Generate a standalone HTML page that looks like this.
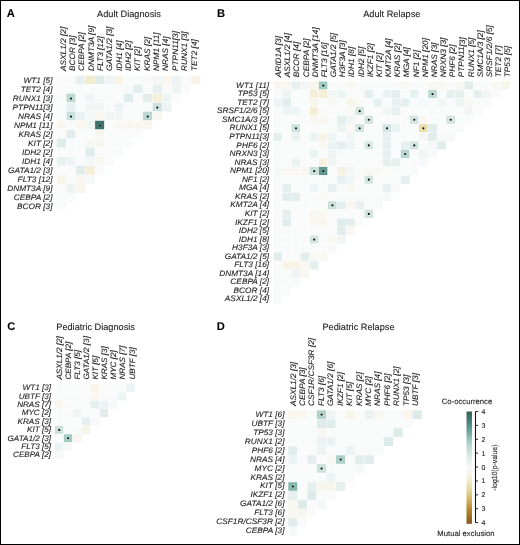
<!DOCTYPE html>
<html><head><meta charset="utf-8"><title>Figure</title><style>
html,body{margin:0;padding:0;background:#fff;}
#wrap{position:relative;width:520px;height:545px;overflow:hidden;background:#fff;}
#frame{position:absolute;left:0;top:0;width:520px;height:545px;box-sizing:border-box;border:1px solid #000;z-index:5;pointer-events:none}
text{text-rendering:geometricPrecision;font-family:"Liberation Sans", sans-serif;font-style:italic;fill:#1c1c1c;stroke:#1c1c1c;stroke-width:0.1px;}
text.t{font-style:normal;font-size:9.2px;fill:#1a1a1a}
text.l{font-style:normal;font-weight:bold;font-size:11.2px;fill:#000}
text.cb{font-style:normal;font-size:7.0px;fill:#1a1a1a}
text.lg{font-style:normal;font-size:7.7px;fill:#1a1a1a}
</style></head>
<body><div id="wrap">
<svg width="520" height="545" viewBox="0 0 520 545" style="position:absolute;left:0;top:0;filter:blur(0.3px)">
<rect x="0" y="0" width="520" height="545" fill="#fff"/>
<rect x="56.60" y="75.40" width="9.59" height="9.05" fill="#f9fafa" stroke="#fff" stroke-width="0.3"/>
<rect x="66.19" y="75.40" width="9.59" height="9.05" fill="#f9fafa" stroke="#fff" stroke-width="0.3"/>
<rect x="75.78" y="75.40" width="9.59" height="9.05" fill="#e8f1f0" stroke="#fff" stroke-width="0.3"/>
<rect x="85.37" y="75.40" width="9.59" height="9.05" fill="#f2ecce" stroke="#fff" stroke-width="0.3"/>
<rect x="94.96" y="75.40" width="9.59" height="9.05" fill="#deecea" stroke="#fff" stroke-width="0.3"/>
<rect x="104.55" y="75.40" width="9.59" height="9.05" fill="#eef4f4" stroke="#fff" stroke-width="0.3"/>
<rect x="114.14" y="75.40" width="9.59" height="9.05" fill="#f7f4ea" stroke="#fff" stroke-width="0.3"/>
<rect x="123.73" y="75.40" width="9.59" height="9.05" fill="#f9fafa" stroke="#fff" stroke-width="0.3"/>
<rect x="133.32" y="75.40" width="9.59" height="9.05" fill="#f9fafa" stroke="#fff" stroke-width="0.3"/>
<rect x="142.91" y="75.40" width="9.59" height="9.05" fill="#f7f9f9" stroke="#fff" stroke-width="0.3"/>
<rect x="152.50" y="75.40" width="9.59" height="9.05" fill="#f1f6f5" stroke="#fff" stroke-width="0.3"/>
<rect x="162.09" y="75.40" width="9.59" height="9.05" fill="#f8f6ee" stroke="#fff" stroke-width="0.3"/>
<rect x="171.68" y="75.40" width="9.59" height="9.05" fill="#eef4f4" stroke="#fff" stroke-width="0.3"/>
<rect x="181.27" y="75.40" width="9.59" height="9.05" fill="#f9fafa" stroke="#fff" stroke-width="0.3"/>
<rect x="190.86" y="75.40" width="9.59" height="9.05" fill="#f7f4ea" stroke="#fff" stroke-width="0.3"/>
<rect x="56.60" y="84.45" width="9.59" height="9.05" fill="#f9fafa" stroke="#fff" stroke-width="0.3"/>
<rect x="66.19" y="84.45" width="9.59" height="9.05" fill="#f9fafa" stroke="#fff" stroke-width="0.3"/>
<rect x="75.78" y="84.45" width="9.59" height="9.05" fill="#f9fafa" stroke="#fff" stroke-width="0.3"/>
<rect x="85.37" y="84.45" width="9.59" height="9.05" fill="#f9fafa" stroke="#fff" stroke-width="0.3"/>
<rect x="94.96" y="84.45" width="9.59" height="9.05" fill="#f9fafa" stroke="#fff" stroke-width="0.3"/>
<rect x="104.55" y="84.45" width="9.59" height="9.05" fill="#f9fafa" stroke="#fff" stroke-width="0.3"/>
<rect x="114.14" y="84.45" width="9.59" height="9.05" fill="#f9fafa" stroke="#fff" stroke-width="0.3"/>
<rect x="123.73" y="84.45" width="9.59" height="9.05" fill="#f7f9f9" stroke="#fff" stroke-width="0.3"/>
<rect x="133.32" y="84.45" width="9.59" height="9.05" fill="#e3eeed" stroke="#fff" stroke-width="0.3"/>
<rect x="142.91" y="84.45" width="9.59" height="9.05" fill="#f9fafa" stroke="#fff" stroke-width="0.3"/>
<rect x="152.50" y="84.45" width="9.59" height="9.05" fill="#e4efee" stroke="#fff" stroke-width="0.3"/>
<rect x="162.09" y="84.45" width="9.59" height="9.05" fill="#f9fafa" stroke="#fff" stroke-width="0.3"/>
<rect x="171.68" y="84.45" width="9.59" height="9.05" fill="#eef4f4" stroke="#fff" stroke-width="0.3"/>
<rect x="181.27" y="84.45" width="9.59" height="9.05" fill="#f9fafa" stroke="#fff" stroke-width="0.3"/>
<rect x="56.60" y="93.50" width="9.59" height="9.05" fill="#f9fafa" stroke="#fff" stroke-width="0.3"/>
<rect x="66.19" y="93.50" width="9.59" height="9.05" fill="#bcd8d2" stroke="#fff" stroke-width="0.3"/>
<rect x="75.78" y="93.50" width="9.59" height="9.05" fill="#f9fafa" stroke="#fff" stroke-width="0.3"/>
<rect x="85.37" y="93.50" width="9.59" height="9.05" fill="#eef4f4" stroke="#fff" stroke-width="0.3"/>
<rect x="94.96" y="93.50" width="9.59" height="9.05" fill="#f9fafa" stroke="#fff" stroke-width="0.3"/>
<rect x="104.55" y="93.50" width="9.59" height="9.05" fill="#f9fafa" stroke="#fff" stroke-width="0.3"/>
<rect x="114.14" y="93.50" width="9.59" height="9.05" fill="#f9fafa" stroke="#fff" stroke-width="0.3"/>
<rect x="123.73" y="93.50" width="9.59" height="9.05" fill="#e1edec" stroke="#fff" stroke-width="0.3"/>
<rect x="133.32" y="93.50" width="9.59" height="9.05" fill="#f9fafa" stroke="#fff" stroke-width="0.3"/>
<rect x="142.91" y="93.50" width="9.59" height="9.05" fill="#e0edeb" stroke="#fff" stroke-width="0.3"/>
<rect x="152.50" y="93.50" width="9.59" height="9.05" fill="#f5efda" stroke="#fff" stroke-width="0.3"/>
<rect x="162.09" y="93.50" width="9.59" height="9.05" fill="#eef4f4" stroke="#fff" stroke-width="0.3"/>
<rect x="171.68" y="93.50" width="9.59" height="9.05" fill="#f9fafa" stroke="#fff" stroke-width="0.3"/>
<rect x="56.60" y="102.55" width="9.59" height="9.05" fill="#f9fafa" stroke="#fff" stroke-width="0.3"/>
<rect x="66.19" y="102.55" width="9.59" height="9.05" fill="#e6f0ef" stroke="#fff" stroke-width="0.3"/>
<rect x="75.78" y="102.55" width="9.59" height="9.05" fill="#f9fafa" stroke="#fff" stroke-width="0.3"/>
<rect x="85.37" y="102.55" width="9.59" height="9.05" fill="#f1f6f5" stroke="#fff" stroke-width="0.3"/>
<rect x="94.96" y="102.55" width="9.59" height="9.05" fill="#f1f6f5" stroke="#fff" stroke-width="0.3"/>
<rect x="104.55" y="102.55" width="9.59" height="9.05" fill="#f9fafa" stroke="#fff" stroke-width="0.3"/>
<rect x="114.14" y="102.55" width="9.59" height="9.05" fill="#eef4f4" stroke="#fff" stroke-width="0.3"/>
<rect x="123.73" y="102.55" width="9.59" height="9.05" fill="#f9fafa" stroke="#fff" stroke-width="0.3"/>
<rect x="133.32" y="102.55" width="9.59" height="9.05" fill="#f9fafa" stroke="#fff" stroke-width="0.3"/>
<rect x="142.91" y="102.55" width="9.59" height="9.05" fill="#f9fafa" stroke="#fff" stroke-width="0.3"/>
<rect x="152.50" y="102.55" width="9.59" height="9.05" fill="#cce1dd" stroke="#fff" stroke-width="0.3"/>
<rect x="162.09" y="102.55" width="9.59" height="9.05" fill="#ecf3f3" stroke="#fff" stroke-width="0.3"/>
<rect x="56.60" y="111.60" width="9.59" height="9.05" fill="#f9fafa" stroke="#fff" stroke-width="0.3"/>
<rect x="66.19" y="111.60" width="9.59" height="9.05" fill="#c9e0db" stroke="#fff" stroke-width="0.3"/>
<rect x="75.78" y="111.60" width="9.59" height="9.05" fill="#eaf2f2" stroke="#fff" stroke-width="0.3"/>
<rect x="85.37" y="111.60" width="9.59" height="9.05" fill="#f5f8f8" stroke="#fff" stroke-width="0.3"/>
<rect x="94.96" y="111.60" width="9.59" height="9.05" fill="#f8f6ee" stroke="#fff" stroke-width="0.3"/>
<rect x="104.55" y="111.60" width="9.59" height="9.05" fill="#f1f6f5" stroke="#fff" stroke-width="0.3"/>
<rect x="114.14" y="111.60" width="9.59" height="9.05" fill="#f1f6f5" stroke="#fff" stroke-width="0.3"/>
<rect x="123.73" y="111.60" width="9.59" height="9.05" fill="#f9fafa" stroke="#fff" stroke-width="0.3"/>
<rect x="133.32" y="111.60" width="9.59" height="9.05" fill="#f9fafa" stroke="#fff" stroke-width="0.3"/>
<rect x="142.91" y="111.60" width="9.59" height="9.05" fill="#b9d6d0" stroke="#fff" stroke-width="0.3"/>
<rect x="152.50" y="111.60" width="9.59" height="9.05" fill="#f8f7f2" stroke="#fff" stroke-width="0.3"/>
<rect x="56.60" y="120.65" width="9.59" height="9.05" fill="#f8f6ee" stroke="#fff" stroke-width="0.3"/>
<rect x="66.19" y="120.65" width="9.59" height="9.05" fill="#f9fafa" stroke="#fff" stroke-width="0.3"/>
<rect x="75.78" y="120.65" width="9.59" height="9.05" fill="#f8f6ee" stroke="#fff" stroke-width="0.3"/>
<rect x="85.37" y="120.65" width="9.59" height="9.05" fill="#f1f6f5" stroke="#fff" stroke-width="0.3"/>
<rect x="94.96" y="120.65" width="9.59" height="9.05" fill="#3d7268" stroke="#fff" stroke-width="0.3"/>
<rect x="104.55" y="120.65" width="9.59" height="9.05" fill="#f9fafa" stroke="#fff" stroke-width="0.3"/>
<rect x="114.14" y="120.65" width="9.59" height="9.05" fill="#f8f7f2" stroke="#fff" stroke-width="0.3"/>
<rect x="123.73" y="120.65" width="9.59" height="9.05" fill="#f8f6ee" stroke="#fff" stroke-width="0.3"/>
<rect x="133.32" y="120.65" width="9.59" height="9.05" fill="#f8f6ee" stroke="#fff" stroke-width="0.3"/>
<rect x="142.91" y="120.65" width="9.59" height="9.05" fill="#f8f6ee" stroke="#fff" stroke-width="0.3"/>
<rect x="56.60" y="129.70" width="9.59" height="9.05" fill="#f9fafa" stroke="#fff" stroke-width="0.3"/>
<rect x="66.19" y="129.70" width="9.59" height="9.05" fill="#e1edec" stroke="#fff" stroke-width="0.3"/>
<rect x="75.78" y="129.70" width="9.59" height="9.05" fill="#f9fafa" stroke="#fff" stroke-width="0.3"/>
<rect x="85.37" y="129.70" width="9.59" height="9.05" fill="#f9fafa" stroke="#fff" stroke-width="0.3"/>
<rect x="94.96" y="129.70" width="9.59" height="9.05" fill="#f8f6f0" stroke="#fff" stroke-width="0.3"/>
<rect x="104.55" y="129.70" width="9.59" height="9.05" fill="#f9fafa" stroke="#fff" stroke-width="0.3"/>
<rect x="114.14" y="129.70" width="9.59" height="9.05" fill="#f9fafa" stroke="#fff" stroke-width="0.3"/>
<rect x="123.73" y="129.70" width="9.59" height="9.05" fill="#f9fafa" stroke="#fff" stroke-width="0.3"/>
<rect x="133.32" y="129.70" width="9.59" height="9.05" fill="#f9fafa" stroke="#fff" stroke-width="0.3"/>
<rect x="56.60" y="138.75" width="9.59" height="9.05" fill="#deecea" stroke="#fff" stroke-width="0.3"/>
<rect x="66.19" y="138.75" width="9.59" height="9.05" fill="#f9fafa" stroke="#fff" stroke-width="0.3"/>
<rect x="75.78" y="138.75" width="9.59" height="9.05" fill="#f9fafa" stroke="#fff" stroke-width="0.3"/>
<rect x="85.37" y="138.75" width="9.59" height="9.05" fill="#f8f6f0" stroke="#fff" stroke-width="0.3"/>
<rect x="94.96" y="138.75" width="9.59" height="9.05" fill="#f8f6f0" stroke="#fff" stroke-width="0.3"/>
<rect x="104.55" y="138.75" width="9.59" height="9.05" fill="#f9fafa" stroke="#fff" stroke-width="0.3"/>
<rect x="114.14" y="138.75" width="9.59" height="9.05" fill="#f9fafa" stroke="#fff" stroke-width="0.3"/>
<rect x="123.73" y="138.75" width="9.59" height="9.05" fill="#f9fafa" stroke="#fff" stroke-width="0.3"/>
<rect x="56.60" y="147.80" width="9.59" height="9.05" fill="#f9fafa" stroke="#fff" stroke-width="0.3"/>
<rect x="66.19" y="147.80" width="9.59" height="9.05" fill="#f9fafa" stroke="#fff" stroke-width="0.3"/>
<rect x="75.78" y="147.80" width="9.59" height="9.05" fill="#f9fafa" stroke="#fff" stroke-width="0.3"/>
<rect x="85.37" y="147.80" width="9.59" height="9.05" fill="#deecea" stroke="#fff" stroke-width="0.3"/>
<rect x="94.96" y="147.80" width="9.59" height="9.05" fill="#f9fafa" stroke="#fff" stroke-width="0.3"/>
<rect x="104.55" y="147.80" width="9.59" height="9.05" fill="#f9fafa" stroke="#fff" stroke-width="0.3"/>
<rect x="114.14" y="147.80" width="9.59" height="9.05" fill="#f9fafa" stroke="#fff" stroke-width="0.3"/>
<rect x="56.60" y="156.85" width="9.59" height="9.05" fill="#e6f0ef" stroke="#fff" stroke-width="0.3"/>
<rect x="66.19" y="156.85" width="9.59" height="9.05" fill="#eef4f4" stroke="#fff" stroke-width="0.3"/>
<rect x="75.78" y="156.85" width="9.59" height="9.05" fill="#f9fafa" stroke="#fff" stroke-width="0.3"/>
<rect x="85.37" y="156.85" width="9.59" height="9.05" fill="#f3f7f6" stroke="#fff" stroke-width="0.3"/>
<rect x="94.96" y="156.85" width="9.59" height="9.05" fill="#f8f7f2" stroke="#fff" stroke-width="0.3"/>
<rect x="104.55" y="156.85" width="9.59" height="9.05" fill="#f9fafa" stroke="#fff" stroke-width="0.3"/>
<rect x="56.60" y="165.90" width="9.59" height="9.05" fill="#f9fafa" stroke="#fff" stroke-width="0.3"/>
<rect x="66.19" y="165.90" width="9.59" height="9.05" fill="#f9fafa" stroke="#fff" stroke-width="0.3"/>
<rect x="75.78" y="165.90" width="9.59" height="9.05" fill="#e0edeb" stroke="#fff" stroke-width="0.3"/>
<rect x="85.37" y="165.90" width="9.59" height="9.05" fill="#f5efda" stroke="#fff" stroke-width="0.3"/>
<rect x="94.96" y="165.90" width="9.59" height="9.05" fill="#f9fafa" stroke="#fff" stroke-width="0.3"/>
<rect x="56.60" y="174.95" width="9.59" height="9.05" fill="#f7f4e8" stroke="#fff" stroke-width="0.3"/>
<rect x="66.19" y="174.95" width="9.59" height="9.05" fill="#f9fafa" stroke="#fff" stroke-width="0.3"/>
<rect x="75.78" y="174.95" width="9.59" height="9.05" fill="#f8f6ee" stroke="#fff" stroke-width="0.3"/>
<rect x="85.37" y="174.95" width="9.59" height="9.05" fill="#f5f8f8" stroke="#fff" stroke-width="0.3"/>
<rect x="56.60" y="184.00" width="9.59" height="9.05" fill="#f9fafa" stroke="#fff" stroke-width="0.3"/>
<rect x="66.19" y="184.00" width="9.59" height="9.05" fill="#ecf3f3" stroke="#fff" stroke-width="0.3"/>
<rect x="75.78" y="184.00" width="9.59" height="9.05" fill="#f8f5ec" stroke="#fff" stroke-width="0.3"/>
<rect x="56.60" y="193.05" width="9.59" height="9.05" fill="#f9fafa" stroke="#fff" stroke-width="0.3"/>
<rect x="66.19" y="193.05" width="9.59" height="9.05" fill="#f9fafa" stroke="#fff" stroke-width="0.3"/>
<rect x="56.60" y="202.10" width="9.59" height="9.05" fill="#f9fafa" stroke="#fff" stroke-width="0.3"/>
<circle cx="70.98" cy="98.53" r="1.9" fill="#fff" fill-opacity="0.2"/>
<circle cx="70.98" cy="98.53" r="1.1" fill="#111"/>
<circle cx="157.29" cy="107.58" r="1.9" fill="#fff" fill-opacity="0.2"/>
<circle cx="157.29" cy="107.58" r="1.1" fill="#111"/>
<circle cx="70.98" cy="116.62" r="1.9" fill="#fff" fill-opacity="0.2"/>
<circle cx="70.98" cy="116.62" r="1.1" fill="#111"/>
<circle cx="147.71" cy="116.62" r="1.9" fill="#fff" fill-opacity="0.2"/>
<circle cx="147.71" cy="116.62" r="1.1" fill="#111"/>
<circle cx="99.75" cy="125.68" r="1.9" fill="#fff" fill-opacity="0.2"/>
<circle cx="99.75" cy="125.68" r="1.1" fill="#111"/>
<text transform="translate(52.50,83.20) scale(1,0.96)" text-anchor="end" font-size="8.3">WT1 [5]</text>
<text transform="translate(52.50,92.18) scale(1,0.96)" text-anchor="end" font-size="8.3">TET2 [4]</text>
<text transform="translate(52.50,101.16) scale(1,0.96)" text-anchor="end" font-size="8.3">RUNX1 [3]</text>
<text transform="translate(52.50,110.14) scale(1,0.96)" text-anchor="end" font-size="8.3">PTPN11[3]</text>
<text transform="translate(52.50,119.12) scale(1,0.96)" text-anchor="end" font-size="8.3">NRAS [4]</text>
<text transform="translate(52.50,128.10) scale(1,0.96)" text-anchor="end" font-size="8.3">NPM1 [11]</text>
<text transform="translate(52.50,137.08) scale(1,0.96)" text-anchor="end" font-size="8.3">KRAS [2]</text>
<text transform="translate(52.50,146.06) scale(1,0.96)" text-anchor="end" font-size="8.3">KIT [2]</text>
<text transform="translate(52.50,155.04) scale(1,0.96)" text-anchor="end" font-size="8.3">IDH2 [2]</text>
<text transform="translate(52.50,164.02) scale(1,0.96)" text-anchor="end" font-size="8.3">IDH1 [4]</text>
<text transform="translate(52.50,173.00) scale(1,0.96)" text-anchor="end" font-size="8.3">GATA1/2 [3]</text>
<text transform="translate(52.50,181.98) scale(1,0.96)" text-anchor="end" font-size="8.3">FLT3 [12]</text>
<text transform="translate(52.50,190.96) scale(1,0.96)" text-anchor="end" font-size="8.3">DNMT3A [9]</text>
<text transform="translate(52.50,199.94) scale(1,0.96)" text-anchor="end" font-size="8.3">CEBPA [2]</text>
<text transform="translate(52.50,208.92) scale(1,0.96)" text-anchor="end" font-size="8.3">BCOR [3]</text>
<text transform="translate(65.65,71.00) rotate(-89.98) scale(1,0.96)" font-size="8.3">ASXL1/2 [2]</text>
<text transform="translate(75.00,71.00) rotate(-89.98) scale(1,0.96)" font-size="8.3">BCOR [3]</text>
<text transform="translate(84.35,71.00) rotate(-89.98) scale(1,0.96)" font-size="8.3">CEBPA [2]</text>
<text transform="translate(93.70,71.00) rotate(-89.98) scale(1,0.96)" font-size="8.3">DNMT3A [9]</text>
<text transform="translate(103.05,71.00) rotate(-89.98) scale(1,0.96)" font-size="8.3">FLT3 [12]</text>
<text transform="translate(112.39,71.00) rotate(-89.98) scale(1,0.96)" font-size="8.3">GATA1/2 [3]</text>
<text transform="translate(121.74,71.00) rotate(-89.98) scale(1,0.96)" font-size="8.3">IDH1 [4]</text>
<text transform="translate(131.09,71.00) rotate(-89.98) scale(1,0.96)" font-size="8.3">IDH2 [2]</text>
<text transform="translate(140.44,71.00) rotate(-89.98) scale(1,0.96)" font-size="8.3">KIT [2]</text>
<text transform="translate(149.79,71.00) rotate(-89.98) scale(1,0.96)" font-size="8.3">KRAS [2]</text>
<text transform="translate(159.14,71.00) rotate(-89.98) scale(1,0.96)" font-size="8.3">NPM1 [11]</text>
<text transform="translate(168.49,71.00) rotate(-89.98) scale(1,0.96)" font-size="8.3">NRAS [4]</text>
<text transform="translate(177.84,71.00) rotate(-89.98) scale(1,0.96)" font-size="8.3">PTPN11[3]</text>
<text transform="translate(187.19,71.00) rotate(-89.98) scale(1,0.96)" font-size="8.3">RUNX1 [3]</text>
<text transform="translate(196.54,71.00) rotate(-89.98) scale(1,0.96)" font-size="8.3">TET2 [4]</text>
<text x="129.00" y="16.90" text-anchor="middle" class="t">Adult Diagnosis</text>
<text x="6.80" y="16.80" class="l">A</text>
<rect x="273.25" y="81.25" width="9.10" height="8.56" fill="#f8f6ee" stroke="#fff" stroke-width="0.3"/>
<rect x="282.35" y="81.25" width="9.10" height="8.56" fill="#f8f6ee" stroke="#fff" stroke-width="0.3"/>
<rect x="291.45" y="81.25" width="9.10" height="8.56" fill="#e6f0ef" stroke="#fff" stroke-width="0.3"/>
<rect x="300.55" y="81.25" width="9.10" height="8.56" fill="#f1f6f5" stroke="#fff" stroke-width="0.3"/>
<rect x="309.65" y="81.25" width="9.10" height="8.56" fill="#f7f4ea" stroke="#fff" stroke-width="0.3"/>
<rect x="318.75" y="81.25" width="9.10" height="8.56" fill="#9ecac0" stroke="#fff" stroke-width="0.3"/>
<rect x="327.85" y="81.25" width="9.10" height="8.56" fill="#f9fafa" stroke="#fff" stroke-width="0.3"/>
<rect x="336.95" y="81.25" width="9.10" height="8.56" fill="#f9fafa" stroke="#fff" stroke-width="0.3"/>
<rect x="346.05" y="81.25" width="9.10" height="8.56" fill="#f8f7f2" stroke="#fff" stroke-width="0.3"/>
<rect x="355.15" y="81.25" width="9.10" height="8.56" fill="#f9fafa" stroke="#fff" stroke-width="0.3"/>
<rect x="364.25" y="81.25" width="9.10" height="8.56" fill="#f9fafa" stroke="#fff" stroke-width="0.3"/>
<rect x="373.35" y="81.25" width="9.10" height="8.56" fill="#f9fafa" stroke="#fff" stroke-width="0.3"/>
<rect x="382.45" y="81.25" width="9.10" height="8.56" fill="#f9fafa" stroke="#fff" stroke-width="0.3"/>
<rect x="391.55" y="81.25" width="9.10" height="8.56" fill="#f9fafa" stroke="#fff" stroke-width="0.3"/>
<rect x="400.65" y="81.25" width="9.10" height="8.56" fill="#f8f7f2" stroke="#fff" stroke-width="0.3"/>
<rect x="409.75" y="81.25" width="9.10" height="8.56" fill="#f9fafa" stroke="#fff" stroke-width="0.3"/>
<rect x="418.85" y="81.25" width="9.10" height="8.56" fill="#f9fafa" stroke="#fff" stroke-width="0.3"/>
<rect x="427.95" y="81.25" width="9.10" height="8.56" fill="#f8f7f2" stroke="#fff" stroke-width="0.3"/>
<rect x="437.05" y="81.25" width="9.10" height="8.56" fill="#f8f7f2" stroke="#fff" stroke-width="0.3"/>
<rect x="446.15" y="81.25" width="9.10" height="8.56" fill="#f9fafa" stroke="#fff" stroke-width="0.3"/>
<rect x="455.25" y="81.25" width="9.10" height="8.56" fill="#f8f6f0" stroke="#fff" stroke-width="0.3"/>
<rect x="464.35" y="81.25" width="9.10" height="8.56" fill="#e0edeb" stroke="#fff" stroke-width="0.3"/>
<rect x="473.45" y="81.25" width="9.10" height="8.56" fill="#f9fafa" stroke="#fff" stroke-width="0.3"/>
<rect x="482.55" y="81.25" width="9.10" height="8.56" fill="#f9fafa" stroke="#fff" stroke-width="0.3"/>
<rect x="491.65" y="81.25" width="9.10" height="8.56" fill="#f8f7f2" stroke="#fff" stroke-width="0.3"/>
<rect x="500.75" y="81.25" width="9.10" height="8.56" fill="#f7f4e8" stroke="#fff" stroke-width="0.3"/>
<rect x="273.25" y="89.81" width="9.10" height="8.56" fill="#f9fafa" stroke="#fff" stroke-width="0.3"/>
<rect x="282.35" y="89.81" width="9.10" height="8.56" fill="#eef4f4" stroke="#fff" stroke-width="0.3"/>
<rect x="291.45" y="89.81" width="9.10" height="8.56" fill="#f9fafa" stroke="#fff" stroke-width="0.3"/>
<rect x="300.55" y="89.81" width="9.10" height="8.56" fill="#f9fafa" stroke="#fff" stroke-width="0.3"/>
<rect x="309.65" y="89.81" width="9.10" height="8.56" fill="#f5efda" stroke="#fff" stroke-width="0.3"/>
<rect x="318.75" y="89.81" width="9.10" height="8.56" fill="#f5efda" stroke="#fff" stroke-width="0.3"/>
<rect x="327.85" y="89.81" width="9.10" height="8.56" fill="#f3f7f6" stroke="#fff" stroke-width="0.3"/>
<rect x="336.95" y="89.81" width="9.10" height="8.56" fill="#ecf3f3" stroke="#fff" stroke-width="0.3"/>
<rect x="346.05" y="89.81" width="9.10" height="8.56" fill="#f9fafa" stroke="#fff" stroke-width="0.3"/>
<rect x="355.15" y="89.81" width="9.10" height="8.56" fill="#f9fafa" stroke="#fff" stroke-width="0.3"/>
<rect x="364.25" y="89.81" width="9.10" height="8.56" fill="#e4efee" stroke="#fff" stroke-width="0.3"/>
<rect x="373.35" y="89.81" width="9.10" height="8.56" fill="#f9fafa" stroke="#fff" stroke-width="0.3"/>
<rect x="382.45" y="89.81" width="9.10" height="8.56" fill="#eaf2f2" stroke="#fff" stroke-width="0.3"/>
<rect x="391.55" y="89.81" width="9.10" height="8.56" fill="#e4efee" stroke="#fff" stroke-width="0.3"/>
<rect x="400.65" y="89.81" width="9.10" height="8.56" fill="#f9fafa" stroke="#fff" stroke-width="0.3"/>
<rect x="409.75" y="89.81" width="9.10" height="8.56" fill="#e6f0ef" stroke="#fff" stroke-width="0.3"/>
<rect x="418.85" y="89.81" width="9.10" height="8.56" fill="#f9fafa" stroke="#fff" stroke-width="0.3"/>
<rect x="427.95" y="89.81" width="9.10" height="8.56" fill="#bfdad4" stroke="#fff" stroke-width="0.3"/>
<rect x="437.05" y="89.81" width="9.10" height="8.56" fill="#f9fafa" stroke="#fff" stroke-width="0.3"/>
<rect x="446.15" y="89.81" width="9.10" height="8.56" fill="#e6f0ef" stroke="#fff" stroke-width="0.3"/>
<rect x="455.25" y="89.81" width="9.10" height="8.56" fill="#e8f1f0" stroke="#fff" stroke-width="0.3"/>
<rect x="464.35" y="89.81" width="9.10" height="8.56" fill="#f9fafa" stroke="#fff" stroke-width="0.3"/>
<rect x="473.45" y="89.81" width="9.10" height="8.56" fill="#e4efee" stroke="#fff" stroke-width="0.3"/>
<rect x="482.55" y="89.81" width="9.10" height="8.56" fill="#f1f6f5" stroke="#fff" stroke-width="0.3"/>
<rect x="491.65" y="89.81" width="9.10" height="8.56" fill="#f9fafa" stroke="#fff" stroke-width="0.3"/>
<rect x="273.25" y="98.37" width="9.10" height="8.56" fill="#eef4f4" stroke="#fff" stroke-width="0.3"/>
<rect x="282.35" y="98.37" width="9.10" height="8.56" fill="#e0edeb" stroke="#fff" stroke-width="0.3"/>
<rect x="291.45" y="98.37" width="9.10" height="8.56" fill="#f9fafa" stroke="#fff" stroke-width="0.3"/>
<rect x="300.55" y="98.37" width="9.10" height="8.56" fill="#f9fafa" stroke="#fff" stroke-width="0.3"/>
<rect x="309.65" y="98.37" width="9.10" height="8.56" fill="#f8f5ec" stroke="#fff" stroke-width="0.3"/>
<rect x="318.75" y="98.37" width="9.10" height="8.56" fill="#f9fafa" stroke="#fff" stroke-width="0.3"/>
<rect x="327.85" y="98.37" width="9.10" height="8.56" fill="#f8f7f2" stroke="#fff" stroke-width="0.3"/>
<rect x="336.95" y="98.37" width="9.10" height="8.56" fill="#f9fafa" stroke="#fff" stroke-width="0.3"/>
<rect x="346.05" y="98.37" width="9.10" height="8.56" fill="#f7f4ea" stroke="#fff" stroke-width="0.3"/>
<rect x="355.15" y="98.37" width="9.10" height="8.56" fill="#f8f7f2" stroke="#fff" stroke-width="0.3"/>
<rect x="364.25" y="98.37" width="9.10" height="8.56" fill="#f9fafa" stroke="#fff" stroke-width="0.3"/>
<rect x="373.35" y="98.37" width="9.10" height="8.56" fill="#e6f0ef" stroke="#fff" stroke-width="0.3"/>
<rect x="382.45" y="98.37" width="9.10" height="8.56" fill="#f9fafa" stroke="#fff" stroke-width="0.3"/>
<rect x="391.55" y="98.37" width="9.10" height="8.56" fill="#e8f1f0" stroke="#fff" stroke-width="0.3"/>
<rect x="400.65" y="98.37" width="9.10" height="8.56" fill="#e3eeed" stroke="#fff" stroke-width="0.3"/>
<rect x="409.75" y="98.37" width="9.10" height="8.56" fill="#f9fafa" stroke="#fff" stroke-width="0.3"/>
<rect x="418.85" y="98.37" width="9.10" height="8.56" fill="#f5f8f8" stroke="#fff" stroke-width="0.3"/>
<rect x="427.95" y="98.37" width="9.10" height="8.56" fill="#f9fafa" stroke="#fff" stroke-width="0.3"/>
<rect x="437.05" y="98.37" width="9.10" height="8.56" fill="#f1f6f5" stroke="#fff" stroke-width="0.3"/>
<rect x="446.15" y="98.37" width="9.10" height="8.56" fill="#f9fafa" stroke="#fff" stroke-width="0.3"/>
<rect x="455.25" y="98.37" width="9.10" height="8.56" fill="#eef4f4" stroke="#fff" stroke-width="0.3"/>
<rect x="464.35" y="98.37" width="9.10" height="8.56" fill="#f8f7f2" stroke="#fff" stroke-width="0.3"/>
<rect x="473.45" y="98.37" width="9.10" height="8.56" fill="#f9fafa" stroke="#fff" stroke-width="0.3"/>
<rect x="482.55" y="98.37" width="9.10" height="8.56" fill="#f9fafa" stroke="#fff" stroke-width="0.3"/>
<rect x="273.25" y="106.93" width="9.10" height="8.56" fill="#f9fafa" stroke="#fff" stroke-width="0.3"/>
<rect x="282.35" y="106.93" width="9.10" height="8.56" fill="#eef4f4" stroke="#fff" stroke-width="0.3"/>
<rect x="291.45" y="106.93" width="9.10" height="8.56" fill="#eef4f4" stroke="#fff" stroke-width="0.3"/>
<rect x="300.55" y="106.93" width="9.10" height="8.56" fill="#f9fafa" stroke="#fff" stroke-width="0.3"/>
<rect x="309.65" y="106.93" width="9.10" height="8.56" fill="#f3eed4" stroke="#fff" stroke-width="0.3"/>
<rect x="318.75" y="106.93" width="9.10" height="8.56" fill="#f8f8f4" stroke="#fff" stroke-width="0.3"/>
<rect x="327.85" y="106.93" width="9.10" height="8.56" fill="#f9fafa" stroke="#fff" stroke-width="0.3"/>
<rect x="336.95" y="106.93" width="9.10" height="8.56" fill="#f9fafa" stroke="#fff" stroke-width="0.3"/>
<rect x="346.05" y="106.93" width="9.10" height="8.56" fill="#f8f8f4" stroke="#fff" stroke-width="0.3"/>
<rect x="355.15" y="106.93" width="9.10" height="8.56" fill="#d1e4e0" stroke="#fff" stroke-width="0.3"/>
<rect x="364.25" y="106.93" width="9.10" height="8.56" fill="#f9fafa" stroke="#fff" stroke-width="0.3"/>
<rect x="373.35" y="106.93" width="9.10" height="8.56" fill="#f9fafa" stroke="#fff" stroke-width="0.3"/>
<rect x="382.45" y="106.93" width="9.10" height="8.56" fill="#f1f6f5" stroke="#fff" stroke-width="0.3"/>
<rect x="391.55" y="106.93" width="9.10" height="8.56" fill="#e8f1f0" stroke="#fff" stroke-width="0.3"/>
<rect x="400.65" y="106.93" width="9.10" height="8.56" fill="#f9fafa" stroke="#fff" stroke-width="0.3"/>
<rect x="409.75" y="106.93" width="9.10" height="8.56" fill="#f9fafa" stroke="#fff" stroke-width="0.3"/>
<rect x="418.85" y="106.93" width="9.10" height="8.56" fill="#f9fafa" stroke="#fff" stroke-width="0.3"/>
<rect x="427.95" y="106.93" width="9.10" height="8.56" fill="#f9fafa" stroke="#fff" stroke-width="0.3"/>
<rect x="437.05" y="106.93" width="9.10" height="8.56" fill="#f9fafa" stroke="#fff" stroke-width="0.3"/>
<rect x="446.15" y="106.93" width="9.10" height="8.56" fill="#f9fafa" stroke="#fff" stroke-width="0.3"/>
<rect x="455.25" y="106.93" width="9.10" height="8.56" fill="#f9fafa" stroke="#fff" stroke-width="0.3"/>
<rect x="464.35" y="106.93" width="9.10" height="8.56" fill="#f1f6f5" stroke="#fff" stroke-width="0.3"/>
<rect x="473.45" y="106.93" width="9.10" height="8.56" fill="#f9fafa" stroke="#fff" stroke-width="0.3"/>
<rect x="273.25" y="115.49" width="9.10" height="8.56" fill="#f9fafa" stroke="#fff" stroke-width="0.3"/>
<rect x="282.35" y="115.49" width="9.10" height="8.56" fill="#f9fafa" stroke="#fff" stroke-width="0.3"/>
<rect x="291.45" y="115.49" width="9.10" height="8.56" fill="#f9fafa" stroke="#fff" stroke-width="0.3"/>
<rect x="300.55" y="115.49" width="9.10" height="8.56" fill="#f9fafa" stroke="#fff" stroke-width="0.3"/>
<rect x="309.65" y="115.49" width="9.10" height="8.56" fill="#f8f6f0" stroke="#fff" stroke-width="0.3"/>
<rect x="318.75" y="115.49" width="9.10" height="8.56" fill="#f8f6f0" stroke="#fff" stroke-width="0.3"/>
<rect x="327.85" y="115.49" width="9.10" height="8.56" fill="#f9fafa" stroke="#fff" stroke-width="0.3"/>
<rect x="336.95" y="115.49" width="9.10" height="8.56" fill="#e3eeed" stroke="#fff" stroke-width="0.3"/>
<rect x="346.05" y="115.49" width="9.10" height="8.56" fill="#f1f6f5" stroke="#fff" stroke-width="0.3"/>
<rect x="355.15" y="115.49" width="9.10" height="8.56" fill="#f9fafa" stroke="#fff" stroke-width="0.3"/>
<rect x="364.25" y="115.49" width="9.10" height="8.56" fill="#d1e4e0" stroke="#fff" stroke-width="0.3"/>
<rect x="373.35" y="115.49" width="9.10" height="8.56" fill="#f9fafa" stroke="#fff" stroke-width="0.3"/>
<rect x="382.45" y="115.49" width="9.10" height="8.56" fill="#f9fafa" stroke="#fff" stroke-width="0.3"/>
<rect x="391.55" y="115.49" width="9.10" height="8.56" fill="#f9fafa" stroke="#fff" stroke-width="0.3"/>
<rect x="400.65" y="115.49" width="9.10" height="8.56" fill="#f9fafa" stroke="#fff" stroke-width="0.3"/>
<rect x="409.75" y="115.49" width="9.10" height="8.56" fill="#d1e4e0" stroke="#fff" stroke-width="0.3"/>
<rect x="418.85" y="115.49" width="9.10" height="8.56" fill="#f8f7f2" stroke="#fff" stroke-width="0.3"/>
<rect x="427.95" y="115.49" width="9.10" height="8.56" fill="#f9fafa" stroke="#fff" stroke-width="0.3"/>
<rect x="437.05" y="115.49" width="9.10" height="8.56" fill="#f9fafa" stroke="#fff" stroke-width="0.3"/>
<rect x="446.15" y="115.49" width="9.10" height="8.56" fill="#d1e4e0" stroke="#fff" stroke-width="0.3"/>
<rect x="455.25" y="115.49" width="9.10" height="8.56" fill="#f9fafa" stroke="#fff" stroke-width="0.3"/>
<rect x="464.35" y="115.49" width="9.10" height="8.56" fill="#f9fafa" stroke="#fff" stroke-width="0.3"/>
<rect x="273.25" y="124.05" width="9.10" height="8.56" fill="#f9fafa" stroke="#fff" stroke-width="0.3"/>
<rect x="282.35" y="124.05" width="9.10" height="8.56" fill="#f9fafa" stroke="#fff" stroke-width="0.3"/>
<rect x="291.45" y="124.05" width="9.10" height="8.56" fill="#cce1dd" stroke="#fff" stroke-width="0.3"/>
<rect x="300.55" y="124.05" width="9.10" height="8.56" fill="#f9fafa" stroke="#fff" stroke-width="0.3"/>
<rect x="309.65" y="124.05" width="9.10" height="8.56" fill="#f9fafa" stroke="#fff" stroke-width="0.3"/>
<rect x="318.75" y="124.05" width="9.10" height="8.56" fill="#f9fafa" stroke="#fff" stroke-width="0.3"/>
<rect x="327.85" y="124.05" width="9.10" height="8.56" fill="#f9fafa" stroke="#fff" stroke-width="0.3"/>
<rect x="336.95" y="124.05" width="9.10" height="8.56" fill="#ecf3f3" stroke="#fff" stroke-width="0.3"/>
<rect x="346.05" y="124.05" width="9.10" height="8.56" fill="#f8f7f2" stroke="#fff" stroke-width="0.3"/>
<rect x="355.15" y="124.05" width="9.10" height="8.56" fill="#d1e4e0" stroke="#fff" stroke-width="0.3"/>
<rect x="364.25" y="124.05" width="9.10" height="8.56" fill="#f9fafa" stroke="#fff" stroke-width="0.3"/>
<rect x="373.35" y="124.05" width="9.10" height="8.56" fill="#f9fafa" stroke="#fff" stroke-width="0.3"/>
<rect x="382.45" y="124.05" width="9.10" height="8.56" fill="#d1e4e0" stroke="#fff" stroke-width="0.3"/>
<rect x="391.55" y="124.05" width="9.10" height="8.56" fill="#ecf3f3" stroke="#fff" stroke-width="0.3"/>
<rect x="400.65" y="124.05" width="9.10" height="8.56" fill="#f9fafa" stroke="#fff" stroke-width="0.3"/>
<rect x="409.75" y="124.05" width="9.10" height="8.56" fill="#f9fafa" stroke="#fff" stroke-width="0.3"/>
<rect x="418.85" y="124.05" width="9.10" height="8.56" fill="#ebddac" stroke="#fff" stroke-width="0.3"/>
<rect x="427.95" y="124.05" width="9.10" height="8.56" fill="#e1edec" stroke="#fff" stroke-width="0.3"/>
<rect x="437.05" y="124.05" width="9.10" height="8.56" fill="#f9fafa" stroke="#fff" stroke-width="0.3"/>
<rect x="446.15" y="124.05" width="9.10" height="8.56" fill="#f9fafa" stroke="#fff" stroke-width="0.3"/>
<rect x="455.25" y="124.05" width="9.10" height="8.56" fill="#f9fafa" stroke="#fff" stroke-width="0.3"/>
<rect x="273.25" y="132.61" width="9.10" height="8.56" fill="#e4efee" stroke="#fff" stroke-width="0.3"/>
<rect x="282.35" y="132.61" width="9.10" height="8.56" fill="#f9fafa" stroke="#fff" stroke-width="0.3"/>
<rect x="291.45" y="132.61" width="9.10" height="8.56" fill="#eaf2f2" stroke="#fff" stroke-width="0.3"/>
<rect x="300.55" y="132.61" width="9.10" height="8.56" fill="#f9fafa" stroke="#fff" stroke-width="0.3"/>
<rect x="309.65" y="132.61" width="9.10" height="8.56" fill="#ecf3f3" stroke="#fff" stroke-width="0.3"/>
<rect x="318.75" y="132.61" width="9.10" height="8.56" fill="#f7f3e6" stroke="#fff" stroke-width="0.3"/>
<rect x="327.85" y="132.61" width="9.10" height="8.56" fill="#eef4f4" stroke="#fff" stroke-width="0.3"/>
<rect x="336.95" y="132.61" width="9.10" height="8.56" fill="#f9fafa" stroke="#fff" stroke-width="0.3"/>
<rect x="346.05" y="132.61" width="9.10" height="8.56" fill="#f1f6f5" stroke="#fff" stroke-width="0.3"/>
<rect x="355.15" y="132.61" width="9.10" height="8.56" fill="#f9fafa" stroke="#fff" stroke-width="0.3"/>
<rect x="364.25" y="132.61" width="9.10" height="8.56" fill="#f9fafa" stroke="#fff" stroke-width="0.3"/>
<rect x="373.35" y="132.61" width="9.10" height="8.56" fill="#f9fafa" stroke="#fff" stroke-width="0.3"/>
<rect x="382.45" y="132.61" width="9.10" height="8.56" fill="#e6f0ef" stroke="#fff" stroke-width="0.3"/>
<rect x="391.55" y="132.61" width="9.10" height="8.56" fill="#f9fafa" stroke="#fff" stroke-width="0.3"/>
<rect x="400.65" y="132.61" width="9.10" height="8.56" fill="#f9fafa" stroke="#fff" stroke-width="0.3"/>
<rect x="409.75" y="132.61" width="9.10" height="8.56" fill="#f9fafa" stroke="#fff" stroke-width="0.3"/>
<rect x="418.85" y="132.61" width="9.10" height="8.56" fill="#f3f7f6" stroke="#fff" stroke-width="0.3"/>
<rect x="427.95" y="132.61" width="9.10" height="8.56" fill="#e1edec" stroke="#fff" stroke-width="0.3"/>
<rect x="437.05" y="132.61" width="9.10" height="8.56" fill="#f7f9f9" stroke="#fff" stroke-width="0.3"/>
<rect x="446.15" y="132.61" width="9.10" height="8.56" fill="#f7f9f9" stroke="#fff" stroke-width="0.3"/>
<rect x="273.25" y="141.17" width="9.10" height="8.56" fill="#f9fafa" stroke="#fff" stroke-width="0.3"/>
<rect x="282.35" y="141.17" width="9.10" height="8.56" fill="#f9fafa" stroke="#fff" stroke-width="0.3"/>
<rect x="291.45" y="141.17" width="9.10" height="8.56" fill="#f9fafa" stroke="#fff" stroke-width="0.3"/>
<rect x="300.55" y="141.17" width="9.10" height="8.56" fill="#f9fafa" stroke="#fff" stroke-width="0.3"/>
<rect x="309.65" y="141.17" width="9.10" height="8.56" fill="#f9fafa" stroke="#fff" stroke-width="0.3"/>
<rect x="318.75" y="141.17" width="9.10" height="8.56" fill="#f8f7f2" stroke="#fff" stroke-width="0.3"/>
<rect x="327.85" y="141.17" width="9.10" height="8.56" fill="#ecf3f3" stroke="#fff" stroke-width="0.3"/>
<rect x="336.95" y="141.17" width="9.10" height="8.56" fill="#e4efee" stroke="#fff" stroke-width="0.3"/>
<rect x="346.05" y="141.17" width="9.10" height="8.56" fill="#eef4f4" stroke="#fff" stroke-width="0.3"/>
<rect x="355.15" y="141.17" width="9.10" height="8.56" fill="#f9fafa" stroke="#fff" stroke-width="0.3"/>
<rect x="364.25" y="141.17" width="9.10" height="8.56" fill="#d6e7e4" stroke="#fff" stroke-width="0.3"/>
<rect x="373.35" y="141.17" width="9.10" height="8.56" fill="#f9fafa" stroke="#fff" stroke-width="0.3"/>
<rect x="382.45" y="141.17" width="9.10" height="8.56" fill="#e6f0ef" stroke="#fff" stroke-width="0.3"/>
<rect x="391.55" y="141.17" width="9.10" height="8.56" fill="#f9fafa" stroke="#fff" stroke-width="0.3"/>
<rect x="400.65" y="141.17" width="9.10" height="8.56" fill="#e6f0ef" stroke="#fff" stroke-width="0.3"/>
<rect x="409.75" y="141.17" width="9.10" height="8.56" fill="#d1e4e0" stroke="#fff" stroke-width="0.3"/>
<rect x="418.85" y="141.17" width="9.10" height="8.56" fill="#f9fafa" stroke="#fff" stroke-width="0.3"/>
<rect x="427.95" y="141.17" width="9.10" height="8.56" fill="#f7f9f9" stroke="#fff" stroke-width="0.3"/>
<rect x="437.05" y="141.17" width="9.10" height="8.56" fill="#e1edec" stroke="#fff" stroke-width="0.3"/>
<rect x="273.25" y="149.73" width="9.10" height="8.56" fill="#f9fafa" stroke="#fff" stroke-width="0.3"/>
<rect x="282.35" y="149.73" width="9.10" height="8.56" fill="#f9fafa" stroke="#fff" stroke-width="0.3"/>
<rect x="291.45" y="149.73" width="9.10" height="8.56" fill="#f9fafa" stroke="#fff" stroke-width="0.3"/>
<rect x="300.55" y="149.73" width="9.10" height="8.56" fill="#f9fafa" stroke="#fff" stroke-width="0.3"/>
<rect x="309.65" y="149.73" width="9.10" height="8.56" fill="#eaf2f2" stroke="#fff" stroke-width="0.3"/>
<rect x="318.75" y="149.73" width="9.10" height="8.56" fill="#f9fafa" stroke="#fff" stroke-width="0.3"/>
<rect x="327.85" y="149.73" width="9.10" height="8.56" fill="#eef4f4" stroke="#fff" stroke-width="0.3"/>
<rect x="336.95" y="149.73" width="9.10" height="8.56" fill="#f9fafa" stroke="#fff" stroke-width="0.3"/>
<rect x="346.05" y="149.73" width="9.10" height="8.56" fill="#f9fafa" stroke="#fff" stroke-width="0.3"/>
<rect x="355.15" y="149.73" width="9.10" height="8.56" fill="#f9fafa" stroke="#fff" stroke-width="0.3"/>
<rect x="364.25" y="149.73" width="9.10" height="8.56" fill="#f9fafa" stroke="#fff" stroke-width="0.3"/>
<rect x="373.35" y="149.73" width="9.10" height="8.56" fill="#f9fafa" stroke="#fff" stroke-width="0.3"/>
<rect x="382.45" y="149.73" width="9.10" height="8.56" fill="#e8f1f0" stroke="#fff" stroke-width="0.3"/>
<rect x="391.55" y="149.73" width="9.10" height="8.56" fill="#f9fafa" stroke="#fff" stroke-width="0.3"/>
<rect x="400.65" y="149.73" width="9.10" height="8.56" fill="#b5d5ce" stroke="#fff" stroke-width="0.3"/>
<rect x="409.75" y="149.73" width="9.10" height="8.56" fill="#f9fafa" stroke="#fff" stroke-width="0.3"/>
<rect x="418.85" y="149.73" width="9.10" height="8.56" fill="#f1f6f5" stroke="#fff" stroke-width="0.3"/>
<rect x="427.95" y="149.73" width="9.10" height="8.56" fill="#f7f9f9" stroke="#fff" stroke-width="0.3"/>
<rect x="273.25" y="158.29" width="9.10" height="8.56" fill="#f9fafa" stroke="#fff" stroke-width="0.3"/>
<rect x="282.35" y="158.29" width="9.10" height="8.56" fill="#f9fafa" stroke="#fff" stroke-width="0.3"/>
<rect x="291.45" y="158.29" width="9.10" height="8.56" fill="#eaf2f2" stroke="#fff" stroke-width="0.3"/>
<rect x="300.55" y="158.29" width="9.10" height="8.56" fill="#f9fafa" stroke="#fff" stroke-width="0.3"/>
<rect x="309.65" y="158.29" width="9.10" height="8.56" fill="#f9fafa" stroke="#fff" stroke-width="0.3"/>
<rect x="318.75" y="158.29" width="9.10" height="8.56" fill="#f6f1e0" stroke="#fff" stroke-width="0.3"/>
<rect x="327.85" y="158.29" width="9.10" height="8.56" fill="#eef4f4" stroke="#fff" stroke-width="0.3"/>
<rect x="336.95" y="158.29" width="9.10" height="8.56" fill="#f9fafa" stroke="#fff" stroke-width="0.3"/>
<rect x="346.05" y="158.29" width="9.10" height="8.56" fill="#f9fafa" stroke="#fff" stroke-width="0.3"/>
<rect x="355.15" y="158.29" width="9.10" height="8.56" fill="#f9fafa" stroke="#fff" stroke-width="0.3"/>
<rect x="364.25" y="158.29" width="9.10" height="8.56" fill="#f9fafa" stroke="#fff" stroke-width="0.3"/>
<rect x="373.35" y="158.29" width="9.10" height="8.56" fill="#f9fafa" stroke="#fff" stroke-width="0.3"/>
<rect x="382.45" y="158.29" width="9.10" height="8.56" fill="#e6f0ef" stroke="#fff" stroke-width="0.3"/>
<rect x="391.55" y="158.29" width="9.10" height="8.56" fill="#e4efee" stroke="#fff" stroke-width="0.3"/>
<rect x="400.65" y="158.29" width="9.10" height="8.56" fill="#f9fafa" stroke="#fff" stroke-width="0.3"/>
<rect x="409.75" y="158.29" width="9.10" height="8.56" fill="#f9fafa" stroke="#fff" stroke-width="0.3"/>
<rect x="418.85" y="158.29" width="9.10" height="8.56" fill="#f5f8f8" stroke="#fff" stroke-width="0.3"/>
<rect x="273.25" y="166.85" width="9.10" height="8.56" fill="#f3f7f6" stroke="#fff" stroke-width="0.3"/>
<rect x="282.35" y="166.85" width="9.10" height="8.56" fill="#f8f7f2" stroke="#fff" stroke-width="0.3"/>
<rect x="291.45" y="166.85" width="9.10" height="8.56" fill="#f8f7f2" stroke="#fff" stroke-width="0.3"/>
<rect x="300.55" y="166.85" width="9.10" height="8.56" fill="#f8f6f0" stroke="#fff" stroke-width="0.3"/>
<rect x="309.65" y="166.85" width="9.10" height="8.56" fill="#c9e0db" stroke="#fff" stroke-width="0.3"/>
<rect x="318.75" y="166.85" width="9.10" height="8.56" fill="#5c968c" stroke="#fff" stroke-width="0.3"/>
<rect x="327.85" y="166.85" width="9.10" height="8.56" fill="#f9fafa" stroke="#fff" stroke-width="0.3"/>
<rect x="336.95" y="166.85" width="9.10" height="8.56" fill="#f6f1e0" stroke="#fff" stroke-width="0.3"/>
<rect x="346.05" y="166.85" width="9.10" height="8.56" fill="#f3f7f6" stroke="#fff" stroke-width="0.3"/>
<rect x="355.15" y="166.85" width="9.10" height="8.56" fill="#f9fafa" stroke="#fff" stroke-width="0.3"/>
<rect x="364.25" y="166.85" width="9.10" height="8.56" fill="#f8f7f2" stroke="#fff" stroke-width="0.3"/>
<rect x="373.35" y="166.85" width="9.10" height="8.56" fill="#f8f7f2" stroke="#fff" stroke-width="0.3"/>
<rect x="382.45" y="166.85" width="9.10" height="8.56" fill="#f9f9f6" stroke="#fff" stroke-width="0.3"/>
<rect x="391.55" y="166.85" width="9.10" height="8.56" fill="#f9fafa" stroke="#fff" stroke-width="0.3"/>
<rect x="400.65" y="166.85" width="9.10" height="8.56" fill="#f9fafa" stroke="#fff" stroke-width="0.3"/>
<rect x="409.75" y="166.85" width="9.10" height="8.56" fill="#f9fafa" stroke="#fff" stroke-width="0.3"/>
<rect x="273.25" y="175.41" width="9.10" height="8.56" fill="#f9fafa" stroke="#fff" stroke-width="0.3"/>
<rect x="282.35" y="175.41" width="9.10" height="8.56" fill="#f9fafa" stroke="#fff" stroke-width="0.3"/>
<rect x="291.45" y="175.41" width="9.10" height="8.56" fill="#f9fafa" stroke="#fff" stroke-width="0.3"/>
<rect x="300.55" y="175.41" width="9.10" height="8.56" fill="#f9fafa" stroke="#fff" stroke-width="0.3"/>
<rect x="309.65" y="175.41" width="9.10" height="8.56" fill="#f9fafa" stroke="#fff" stroke-width="0.3"/>
<rect x="318.75" y="175.41" width="9.10" height="8.56" fill="#f9fafa" stroke="#fff" stroke-width="0.3"/>
<rect x="327.85" y="175.41" width="9.10" height="8.56" fill="#f9fafa" stroke="#fff" stroke-width="0.3"/>
<rect x="336.95" y="175.41" width="9.10" height="8.56" fill="#e8f1f0" stroke="#fff" stroke-width="0.3"/>
<rect x="346.05" y="175.41" width="9.10" height="8.56" fill="#f1f6f5" stroke="#fff" stroke-width="0.3"/>
<rect x="355.15" y="175.41" width="9.10" height="8.56" fill="#f9fafa" stroke="#fff" stroke-width="0.3"/>
<rect x="364.25" y="175.41" width="9.10" height="8.56" fill="#d1e4e0" stroke="#fff" stroke-width="0.3"/>
<rect x="373.35" y="175.41" width="9.10" height="8.56" fill="#f9fafa" stroke="#fff" stroke-width="0.3"/>
<rect x="382.45" y="175.41" width="9.10" height="8.56" fill="#f9fafa" stroke="#fff" stroke-width="0.3"/>
<rect x="391.55" y="175.41" width="9.10" height="8.56" fill="#f9fafa" stroke="#fff" stroke-width="0.3"/>
<rect x="400.65" y="175.41" width="9.10" height="8.56" fill="#e4efee" stroke="#fff" stroke-width="0.3"/>
<rect x="273.25" y="183.97" width="9.10" height="8.56" fill="#f9fafa" stroke="#fff" stroke-width="0.3"/>
<rect x="282.35" y="183.97" width="9.10" height="8.56" fill="#e3eeed" stroke="#fff" stroke-width="0.3"/>
<rect x="291.45" y="183.97" width="9.10" height="8.56" fill="#f9fafa" stroke="#fff" stroke-width="0.3"/>
<rect x="300.55" y="183.97" width="9.10" height="8.56" fill="#f9fafa" stroke="#fff" stroke-width="0.3"/>
<rect x="309.65" y="183.97" width="9.10" height="8.56" fill="#eef4f4" stroke="#fff" stroke-width="0.3"/>
<rect x="318.75" y="183.97" width="9.10" height="8.56" fill="#f9fafa" stroke="#fff" stroke-width="0.3"/>
<rect x="327.85" y="183.97" width="9.10" height="8.56" fill="#e6f0ef" stroke="#fff" stroke-width="0.3"/>
<rect x="336.95" y="183.97" width="9.10" height="8.56" fill="#f9fafa" stroke="#fff" stroke-width="0.3"/>
<rect x="346.05" y="183.97" width="9.10" height="8.56" fill="#f8f7f2" stroke="#fff" stroke-width="0.3"/>
<rect x="355.15" y="183.97" width="9.10" height="8.56" fill="#f9fafa" stroke="#fff" stroke-width="0.3"/>
<rect x="364.25" y="183.97" width="9.10" height="8.56" fill="#f9fafa" stroke="#fff" stroke-width="0.3"/>
<rect x="373.35" y="183.97" width="9.10" height="8.56" fill="#f9fafa" stroke="#fff" stroke-width="0.3"/>
<rect x="382.45" y="183.97" width="9.10" height="8.56" fill="#e8f1f0" stroke="#fff" stroke-width="0.3"/>
<rect x="391.55" y="183.97" width="9.10" height="8.56" fill="#f7f9f9" stroke="#fff" stroke-width="0.3"/>
<rect x="273.25" y="192.53" width="9.10" height="8.56" fill="#f9fafa" stroke="#fff" stroke-width="0.3"/>
<rect x="282.35" y="192.53" width="9.10" height="8.56" fill="#e1edec" stroke="#fff" stroke-width="0.3"/>
<rect x="291.45" y="192.53" width="9.10" height="8.56" fill="#e1edec" stroke="#fff" stroke-width="0.3"/>
<rect x="300.55" y="192.53" width="9.10" height="8.56" fill="#f9fafa" stroke="#fff" stroke-width="0.3"/>
<rect x="309.65" y="192.53" width="9.10" height="8.56" fill="#f9fafa" stroke="#fff" stroke-width="0.3"/>
<rect x="318.75" y="192.53" width="9.10" height="8.56" fill="#f8f7f2" stroke="#fff" stroke-width="0.3"/>
<rect x="327.85" y="192.53" width="9.10" height="8.56" fill="#f9fafa" stroke="#fff" stroke-width="0.3"/>
<rect x="336.95" y="192.53" width="9.10" height="8.56" fill="#f9fafa" stroke="#fff" stroke-width="0.3"/>
<rect x="346.05" y="192.53" width="9.10" height="8.56" fill="#f9fafa" stroke="#fff" stroke-width="0.3"/>
<rect x="355.15" y="192.53" width="9.10" height="8.56" fill="#f9fafa" stroke="#fff" stroke-width="0.3"/>
<rect x="364.25" y="192.53" width="9.10" height="8.56" fill="#f9fafa" stroke="#fff" stroke-width="0.3"/>
<rect x="373.35" y="192.53" width="9.10" height="8.56" fill="#f9fafa" stroke="#fff" stroke-width="0.3"/>
<rect x="382.45" y="192.53" width="9.10" height="8.56" fill="#f7f9f9" stroke="#fff" stroke-width="0.3"/>
<rect x="273.25" y="201.09" width="9.10" height="8.56" fill="#f9fafa" stroke="#fff" stroke-width="0.3"/>
<rect x="282.35" y="201.09" width="9.10" height="8.56" fill="#f9fafa" stroke="#fff" stroke-width="0.3"/>
<rect x="291.45" y="201.09" width="9.10" height="8.56" fill="#f9fafa" stroke="#fff" stroke-width="0.3"/>
<rect x="300.55" y="201.09" width="9.10" height="8.56" fill="#f9fafa" stroke="#fff" stroke-width="0.3"/>
<rect x="309.65" y="201.09" width="9.10" height="8.56" fill="#f9fafa" stroke="#fff" stroke-width="0.3"/>
<rect x="318.75" y="201.09" width="9.10" height="8.56" fill="#f9fafa" stroke="#fff" stroke-width="0.3"/>
<rect x="327.85" y="201.09" width="9.10" height="8.56" fill="#c9e0db" stroke="#fff" stroke-width="0.3"/>
<rect x="336.95" y="201.09" width="9.10" height="8.56" fill="#e4efee" stroke="#fff" stroke-width="0.3"/>
<rect x="346.05" y="201.09" width="9.10" height="8.56" fill="#f8f7f2" stroke="#fff" stroke-width="0.3"/>
<rect x="355.15" y="201.09" width="9.10" height="8.56" fill="#e8f1f0" stroke="#fff" stroke-width="0.3"/>
<rect x="364.25" y="201.09" width="9.10" height="8.56" fill="#f9fafa" stroke="#fff" stroke-width="0.3"/>
<rect x="373.35" y="201.09" width="9.10" height="8.56" fill="#f9fafa" stroke="#fff" stroke-width="0.3"/>
<rect x="273.25" y="209.65" width="9.10" height="8.56" fill="#f9fafa" stroke="#fff" stroke-width="0.3"/>
<rect x="282.35" y="209.65" width="9.10" height="8.56" fill="#e3eeed" stroke="#fff" stroke-width="0.3"/>
<rect x="291.45" y="209.65" width="9.10" height="8.56" fill="#f9fafa" stroke="#fff" stroke-width="0.3"/>
<rect x="300.55" y="209.65" width="9.10" height="8.56" fill="#f9fafa" stroke="#fff" stroke-width="0.3"/>
<rect x="309.65" y="209.65" width="9.10" height="8.56" fill="#f8f6ee" stroke="#fff" stroke-width="0.3"/>
<rect x="318.75" y="209.65" width="9.10" height="8.56" fill="#f8f6ee" stroke="#fff" stroke-width="0.3"/>
<rect x="327.85" y="209.65" width="9.10" height="8.56" fill="#f9fafa" stroke="#fff" stroke-width="0.3"/>
<rect x="336.95" y="209.65" width="9.10" height="8.56" fill="#f9fafa" stroke="#fff" stroke-width="0.3"/>
<rect x="346.05" y="209.65" width="9.10" height="8.56" fill="#f9fafa" stroke="#fff" stroke-width="0.3"/>
<rect x="355.15" y="209.65" width="9.10" height="8.56" fill="#f9fafa" stroke="#fff" stroke-width="0.3"/>
<rect x="364.25" y="209.65" width="9.10" height="8.56" fill="#d1e4e0" stroke="#fff" stroke-width="0.3"/>
<rect x="273.25" y="218.21" width="9.10" height="8.56" fill="#f9fafa" stroke="#fff" stroke-width="0.3"/>
<rect x="282.35" y="218.21" width="9.10" height="8.56" fill="#e1edec" stroke="#fff" stroke-width="0.3"/>
<rect x="291.45" y="218.21" width="9.10" height="8.56" fill="#f9fafa" stroke="#fff" stroke-width="0.3"/>
<rect x="300.55" y="218.21" width="9.10" height="8.56" fill="#f9fafa" stroke="#fff" stroke-width="0.3"/>
<rect x="309.65" y="218.21" width="9.10" height="8.56" fill="#f8f6ee" stroke="#fff" stroke-width="0.3"/>
<rect x="318.75" y="218.21" width="9.10" height="8.56" fill="#f8f6ee" stroke="#fff" stroke-width="0.3"/>
<rect x="327.85" y="218.21" width="9.10" height="8.56" fill="#f9fafa" stroke="#fff" stroke-width="0.3"/>
<rect x="336.95" y="218.21" width="9.10" height="8.56" fill="#deecea" stroke="#fff" stroke-width="0.3"/>
<rect x="346.05" y="218.21" width="9.10" height="8.56" fill="#e4efee" stroke="#fff" stroke-width="0.3"/>
<rect x="355.15" y="218.21" width="9.10" height="8.56" fill="#f9fafa" stroke="#fff" stroke-width="0.3"/>
<rect x="273.25" y="226.77" width="9.10" height="8.56" fill="#f9fafa" stroke="#fff" stroke-width="0.3"/>
<rect x="282.35" y="226.77" width="9.10" height="8.56" fill="#f9fafa" stroke="#fff" stroke-width="0.3"/>
<rect x="291.45" y="226.77" width="9.10" height="8.56" fill="#f9fafa" stroke="#fff" stroke-width="0.3"/>
<rect x="300.55" y="226.77" width="9.10" height="8.56" fill="#f9fafa" stroke="#fff" stroke-width="0.3"/>
<rect x="309.65" y="226.77" width="9.10" height="8.56" fill="#f9fafa" stroke="#fff" stroke-width="0.3"/>
<rect x="318.75" y="226.77" width="9.10" height="8.56" fill="#f9fafa" stroke="#fff" stroke-width="0.3"/>
<rect x="327.85" y="226.77" width="9.10" height="8.56" fill="#f9fafa" stroke="#fff" stroke-width="0.3"/>
<rect x="336.95" y="226.77" width="9.10" height="8.56" fill="#e1edec" stroke="#fff" stroke-width="0.3"/>
<rect x="346.05" y="226.77" width="9.10" height="8.56" fill="#f8f7f2" stroke="#fff" stroke-width="0.3"/>
<rect x="273.25" y="235.33" width="9.10" height="8.56" fill="#f9fafa" stroke="#fff" stroke-width="0.3"/>
<rect x="282.35" y="235.33" width="9.10" height="8.56" fill="#f9fafa" stroke="#fff" stroke-width="0.3"/>
<rect x="291.45" y="235.33" width="9.10" height="8.56" fill="#f9fafa" stroke="#fff" stroke-width="0.3"/>
<rect x="300.55" y="235.33" width="9.10" height="8.56" fill="#f9fafa" stroke="#fff" stroke-width="0.3"/>
<rect x="309.65" y="235.33" width="9.10" height="8.56" fill="#d1e4e0" stroke="#fff" stroke-width="0.3"/>
<rect x="318.75" y="235.33" width="9.10" height="8.56" fill="#f9fafa" stroke="#fff" stroke-width="0.3"/>
<rect x="327.85" y="235.33" width="9.10" height="8.56" fill="#f8f7f2" stroke="#fff" stroke-width="0.3"/>
<rect x="336.95" y="235.33" width="9.10" height="8.56" fill="#f1f6f5" stroke="#fff" stroke-width="0.3"/>
<rect x="273.25" y="243.89" width="9.10" height="8.56" fill="#f9fafa" stroke="#fff" stroke-width="0.3"/>
<rect x="282.35" y="243.89" width="9.10" height="8.56" fill="#f9fafa" stroke="#fff" stroke-width="0.3"/>
<rect x="291.45" y="243.89" width="9.10" height="8.56" fill="#f9fafa" stroke="#fff" stroke-width="0.3"/>
<rect x="300.55" y="243.89" width="9.10" height="8.56" fill="#f9fafa" stroke="#fff" stroke-width="0.3"/>
<rect x="309.65" y="243.89" width="9.10" height="8.56" fill="#f9fafa" stroke="#fff" stroke-width="0.3"/>
<rect x="318.75" y="243.89" width="9.10" height="8.56" fill="#f9fafa" stroke="#fff" stroke-width="0.3"/>
<rect x="327.85" y="243.89" width="9.10" height="8.56" fill="#f7f9f9" stroke="#fff" stroke-width="0.3"/>
<rect x="273.25" y="252.45" width="9.10" height="8.56" fill="#e1edec" stroke="#fff" stroke-width="0.3"/>
<rect x="282.35" y="252.45" width="9.10" height="8.56" fill="#f9fafa" stroke="#fff" stroke-width="0.3"/>
<rect x="291.45" y="252.45" width="9.10" height="8.56" fill="#f9fafa" stroke="#fff" stroke-width="0.3"/>
<rect x="300.55" y="252.45" width="9.10" height="8.56" fill="#e0edeb" stroke="#fff" stroke-width="0.3"/>
<rect x="309.65" y="252.45" width="9.10" height="8.56" fill="#f8f7f2" stroke="#fff" stroke-width="0.3"/>
<rect x="318.75" y="252.45" width="9.10" height="8.56" fill="#f8f7f2" stroke="#fff" stroke-width="0.3"/>
<rect x="273.25" y="261.01" width="9.10" height="8.56" fill="#f9fafa" stroke="#fff" stroke-width="0.3"/>
<rect x="282.35" y="261.01" width="9.10" height="8.56" fill="#f7f3e6" stroke="#fff" stroke-width="0.3"/>
<rect x="291.45" y="261.01" width="9.10" height="8.56" fill="#f7f3e6" stroke="#fff" stroke-width="0.3"/>
<rect x="300.55" y="261.01" width="9.10" height="8.56" fill="#f8f7f2" stroke="#fff" stroke-width="0.3"/>
<rect x="309.65" y="261.01" width="9.10" height="8.56" fill="#e4efee" stroke="#fff" stroke-width="0.3"/>
<rect x="273.25" y="269.57" width="9.10" height="8.56" fill="#f9fafa" stroke="#fff" stroke-width="0.3"/>
<rect x="282.35" y="269.57" width="9.10" height="8.56" fill="#f9fafa" stroke="#fff" stroke-width="0.3"/>
<rect x="291.45" y="269.57" width="9.10" height="8.56" fill="#eef4f4" stroke="#fff" stroke-width="0.3"/>
<rect x="300.55" y="269.57" width="9.10" height="8.56" fill="#f8f7f2" stroke="#fff" stroke-width="0.3"/>
<rect x="273.25" y="278.13" width="9.10" height="8.56" fill="#f9fafa" stroke="#fff" stroke-width="0.3"/>
<rect x="282.35" y="278.13" width="9.10" height="8.56" fill="#f9fafa" stroke="#fff" stroke-width="0.3"/>
<rect x="291.45" y="278.13" width="9.10" height="8.56" fill="#f9fafa" stroke="#fff" stroke-width="0.3"/>
<rect x="273.25" y="286.69" width="9.10" height="8.56" fill="#f9fafa" stroke="#fff" stroke-width="0.3"/>
<rect x="282.35" y="286.69" width="9.10" height="8.56" fill="#f9fafa" stroke="#fff" stroke-width="0.3"/>
<rect x="273.25" y="295.25" width="9.10" height="8.56" fill="#f9fafa" stroke="#fff" stroke-width="0.3"/>
<circle cx="323.30" cy="85.53" r="1.9" fill="#fff" fill-opacity="0.2"/>
<circle cx="323.30" cy="85.53" r="1.1" fill="#111"/>
<circle cx="432.50" cy="94.09" r="1.9" fill="#fff" fill-opacity="0.2"/>
<circle cx="432.50" cy="94.09" r="1.1" fill="#111"/>
<circle cx="359.70" cy="111.21" r="1.9" fill="#fff" fill-opacity="0.2"/>
<circle cx="359.70" cy="111.21" r="1.1" fill="#111"/>
<circle cx="368.80" cy="119.77" r="1.9" fill="#fff" fill-opacity="0.2"/>
<circle cx="368.80" cy="119.77" r="1.1" fill="#111"/>
<circle cx="414.30" cy="119.77" r="1.9" fill="#fff" fill-opacity="0.2"/>
<circle cx="414.30" cy="119.77" r="1.1" fill="#111"/>
<circle cx="450.70" cy="119.77" r="1.9" fill="#fff" fill-opacity="0.2"/>
<circle cx="450.70" cy="119.77" r="1.1" fill="#111"/>
<circle cx="296.00" cy="128.33" r="1.9" fill="#fff" fill-opacity="0.2"/>
<circle cx="296.00" cy="128.33" r="1.1" fill="#111"/>
<circle cx="359.70" cy="128.33" r="1.9" fill="#fff" fill-opacity="0.2"/>
<circle cx="359.70" cy="128.33" r="1.1" fill="#111"/>
<circle cx="387.00" cy="128.33" r="1.9" fill="#fff" fill-opacity="0.2"/>
<circle cx="387.00" cy="128.33" r="1.1" fill="#111"/>
<circle cx="423.40" cy="128.33" r="1.9" fill="#fff" fill-opacity="0.2"/>
<circle cx="423.40" cy="128.33" r="1.1" fill="#111"/>
<circle cx="368.80" cy="145.45" r="1.9" fill="#fff" fill-opacity="0.2"/>
<circle cx="368.80" cy="145.45" r="1.1" fill="#111"/>
<circle cx="414.30" cy="145.45" r="1.9" fill="#fff" fill-opacity="0.2"/>
<circle cx="414.30" cy="145.45" r="1.1" fill="#111"/>
<circle cx="405.20" cy="154.01" r="1.9" fill="#fff" fill-opacity="0.2"/>
<circle cx="405.20" cy="154.01" r="1.1" fill="#111"/>
<circle cx="314.20" cy="171.13" r="1.9" fill="#fff" fill-opacity="0.2"/>
<circle cx="314.20" cy="171.13" r="1.1" fill="#111"/>
<circle cx="323.30" cy="171.13" r="1.9" fill="#fff" fill-opacity="0.2"/>
<circle cx="323.30" cy="171.13" r="1.1" fill="#111"/>
<circle cx="368.80" cy="179.69" r="1.9" fill="#fff" fill-opacity="0.2"/>
<circle cx="368.80" cy="179.69" r="1.1" fill="#111"/>
<circle cx="332.40" cy="205.37" r="1.9" fill="#fff" fill-opacity="0.2"/>
<circle cx="332.40" cy="205.37" r="1.1" fill="#111"/>
<circle cx="368.80" cy="213.93" r="1.9" fill="#fff" fill-opacity="0.2"/>
<circle cx="368.80" cy="213.93" r="1.1" fill="#111"/>
<circle cx="314.20" cy="239.61" r="1.9" fill="#fff" fill-opacity="0.2"/>
<circle cx="314.20" cy="239.61" r="1.1" fill="#111"/>
<text transform="translate(269.10,87.70) scale(1,0.96)" text-anchor="end" font-size="8.3">WT1 [11]</text>
<text transform="translate(269.10,96.25) scale(1,0.96)" text-anchor="end" font-size="8.3">TP53 [5]</text>
<text transform="translate(269.10,104.80) scale(1,0.96)" text-anchor="end" font-size="8.3">TET2 [7]</text>
<text transform="translate(269.10,113.35) scale(1,0.96)" text-anchor="end" font-size="8.3">SRSF1/2/6 [5]</text>
<text transform="translate(269.10,121.90) scale(1,0.96)" text-anchor="end" font-size="8.3">SMC1A/3 [2]</text>
<text transform="translate(269.10,130.45) scale(1,0.96)" text-anchor="end" font-size="8.3">RUNX1 [5]</text>
<text transform="translate(269.10,139.00) scale(1,0.96)" text-anchor="end" font-size="8.3">PTPN11[3]</text>
<text transform="translate(269.10,147.55) scale(1,0.96)" text-anchor="end" font-size="8.3">PHF6 [2]</text>
<text transform="translate(269.10,156.10) scale(1,0.96)" text-anchor="end" font-size="8.3">NRXN3 [3]</text>
<text transform="translate(269.10,164.65) scale(1,0.96)" text-anchor="end" font-size="8.3">NRAS [3]</text>
<text transform="translate(269.10,173.20) scale(1,0.96)" text-anchor="end" font-size="8.3">NPM1 [20]</text>
<text transform="translate(269.10,181.75) scale(1,0.96)" text-anchor="end" font-size="8.3">NF1 [2]</text>
<text transform="translate(269.10,190.30) scale(1,0.96)" text-anchor="end" font-size="8.3">MGA [4]</text>
<text transform="translate(269.10,198.85) scale(1,0.96)" text-anchor="end" font-size="8.3">KRAS [2]</text>
<text transform="translate(269.10,207.40) scale(1,0.96)" text-anchor="end" font-size="8.3">KMT2A [4]</text>
<text transform="translate(269.10,215.95) scale(1,0.96)" text-anchor="end" font-size="8.3">KIT [2]</text>
<text transform="translate(269.10,224.50) scale(1,0.96)" text-anchor="end" font-size="8.3">IKZF1 [2]</text>
<text transform="translate(269.10,233.05) scale(1,0.96)" text-anchor="end" font-size="8.3">IDH2 [5]</text>
<text transform="translate(269.10,241.60) scale(1,0.96)" text-anchor="end" font-size="8.3">IDH1 [8]</text>
<text transform="translate(269.10,250.15) scale(1,0.96)" text-anchor="end" font-size="8.3">H3F3A [3]</text>
<text transform="translate(269.10,258.70) scale(1,0.96)" text-anchor="end" font-size="8.3">GATA1/2 [5]</text>
<text transform="translate(269.10,267.25) scale(1,0.96)" text-anchor="end" font-size="8.3">FLT3 [16]</text>
<text transform="translate(269.10,275.80) scale(1,0.96)" text-anchor="end" font-size="8.3">DNMT3A [14]</text>
<text transform="translate(269.10,284.35) scale(1,0.96)" text-anchor="end" font-size="8.3">CEBPA [2]</text>
<text transform="translate(269.10,292.90) scale(1,0.96)" text-anchor="end" font-size="8.3">BCOR [4]</text>
<text transform="translate(269.10,301.45) scale(1,0.96)" text-anchor="end" font-size="8.3">ASXL1/2 [4]</text>
<text transform="translate(281.05,77.25) rotate(-89.98) scale(1,0.96)" font-size="8.3">ARID1A [3]</text>
<text transform="translate(290.22,77.25) rotate(-89.98) scale(1,0.96)" font-size="8.3">ASXL1/2 [4]</text>
<text transform="translate(299.39,77.25) rotate(-89.98) scale(1,0.96)" font-size="8.3">BCOR [4]</text>
<text transform="translate(308.57,77.25) rotate(-89.98) scale(1,0.96)" font-size="8.3">CEBPA [2]</text>
<text transform="translate(317.74,77.25) rotate(-89.98) scale(1,0.96)" font-size="8.3">DNMT3A [14]</text>
<text transform="translate(326.91,77.25) rotate(-89.98) scale(1,0.96)" font-size="8.3">FLT3 [16]</text>
<text transform="translate(336.08,77.25) rotate(-89.98) scale(1,0.96)" font-size="8.3">GATA1/2 [5]</text>
<text transform="translate(345.25,77.25) rotate(-89.98) scale(1,0.96)" font-size="8.3">H3F3A [3]</text>
<text transform="translate(354.43,77.25) rotate(-89.98) scale(1,0.96)" font-size="8.3">IDH1 [8]</text>
<text transform="translate(363.60,77.25) rotate(-89.98) scale(1,0.96)" font-size="8.3">IDH2 [5]</text>
<text transform="translate(372.77,77.25) rotate(-89.98) scale(1,0.96)" font-size="8.3">IKZF1 [2]</text>
<text transform="translate(381.94,77.25) rotate(-89.98) scale(1,0.96)" font-size="8.3">KIT [2]</text>
<text transform="translate(391.11,77.25) rotate(-89.98) scale(1,0.96)" font-size="8.3">KMT2A [4]</text>
<text transform="translate(400.29,77.25) rotate(-89.98) scale(1,0.96)" font-size="8.3">KRAS [2]</text>
<text transform="translate(409.46,77.25) rotate(-89.98) scale(1,0.96)" font-size="8.3">MGA [4]</text>
<text transform="translate(418.63,77.25) rotate(-89.98) scale(1,0.96)" font-size="8.3">NF1 [2]</text>
<text transform="translate(427.80,77.25) rotate(-89.98) scale(1,0.96)" font-size="8.3">NPM1 [20]</text>
<text transform="translate(436.97,77.25) rotate(-89.98) scale(1,0.96)" font-size="8.3">NRAS [3]</text>
<text transform="translate(446.15,77.25) rotate(-89.98) scale(1,0.96)" font-size="8.3">NRXN3 [3]</text>
<text transform="translate(455.32,77.25) rotate(-89.98) scale(1,0.96)" font-size="8.3">PHF6 [2]</text>
<text transform="translate(464.49,77.25) rotate(-89.98) scale(1,0.96)" font-size="8.3">PTPN11[3]</text>
<text transform="translate(473.66,77.25) rotate(-89.98) scale(1,0.96)" font-size="8.3">RUNX1 [5]</text>
<text transform="translate(482.83,77.25) rotate(-89.98) scale(1,0.96)" font-size="8.3">SMC1A/3 [2]</text>
<text transform="translate(492.01,77.25) rotate(-89.98) scale(1,0.96)" font-size="8.3">SRSF1/2/6 [5]</text>
<text transform="translate(501.18,77.25) rotate(-89.98) scale(1,0.96)" font-size="8.3">TET2 [7]</text>
<text transform="translate(510.35,77.25) rotate(-89.98) scale(1,0.96)" font-size="8.3">TP53 [5]</text>
<text x="391.80" y="16.90" text-anchor="middle" class="t">Adult Relapse</text>
<text x="217.00" y="16.80" class="l">B</text>
<rect x="54.80" y="383.80" width="8.91" height="8.38" fill="#f9fafa" stroke="#fff" stroke-width="0.3"/>
<rect x="63.71" y="383.80" width="8.91" height="8.38" fill="#f9fafa" stroke="#fff" stroke-width="0.3"/>
<rect x="72.62" y="383.80" width="8.91" height="8.38" fill="#f9fafa" stroke="#fff" stroke-width="0.3"/>
<rect x="81.53" y="383.80" width="8.91" height="8.38" fill="#f9fafa" stroke="#fff" stroke-width="0.3"/>
<rect x="90.44" y="383.80" width="8.91" height="8.38" fill="#f8f5ec" stroke="#fff" stroke-width="0.3"/>
<rect x="99.35" y="383.80" width="8.91" height="8.38" fill="#f9fafa" stroke="#fff" stroke-width="0.3"/>
<rect x="108.26" y="383.80" width="8.91" height="8.38" fill="#f9fafa" stroke="#fff" stroke-width="0.3"/>
<rect x="117.17" y="383.80" width="8.91" height="8.38" fill="#f9fafa" stroke="#fff" stroke-width="0.3"/>
<rect x="126.08" y="383.80" width="8.91" height="8.38" fill="#ecf3f3" stroke="#fff" stroke-width="0.3"/>
<rect x="54.80" y="392.18" width="8.91" height="8.38" fill="#f9fafa" stroke="#fff" stroke-width="0.3"/>
<rect x="63.71" y="392.18" width="8.91" height="8.38" fill="#f9fafa" stroke="#fff" stroke-width="0.3"/>
<rect x="72.62" y="392.18" width="8.91" height="8.38" fill="#f9fafa" stroke="#fff" stroke-width="0.3"/>
<rect x="81.53" y="392.18" width="8.91" height="8.38" fill="#f9fafa" stroke="#fff" stroke-width="0.3"/>
<rect x="90.44" y="392.18" width="8.91" height="8.38" fill="#f8f6ee" stroke="#fff" stroke-width="0.3"/>
<rect x="99.35" y="392.18" width="8.91" height="8.38" fill="#f9fafa" stroke="#fff" stroke-width="0.3"/>
<rect x="108.26" y="392.18" width="8.91" height="8.38" fill="#f9fafa" stroke="#fff" stroke-width="0.3"/>
<rect x="117.17" y="392.18" width="8.91" height="8.38" fill="#eef4f4" stroke="#fff" stroke-width="0.3"/>
<rect x="54.80" y="400.56" width="8.91" height="8.38" fill="#f8f6ee" stroke="#fff" stroke-width="0.3"/>
<rect x="63.71" y="400.56" width="8.91" height="8.38" fill="#f9fafa" stroke="#fff" stroke-width="0.3"/>
<rect x="72.62" y="400.56" width="8.91" height="8.38" fill="#f9fafa" stroke="#fff" stroke-width="0.3"/>
<rect x="81.53" y="400.56" width="8.91" height="8.38" fill="#f9fafa" stroke="#fff" stroke-width="0.3"/>
<rect x="90.44" y="400.56" width="8.91" height="8.38" fill="#e4efee" stroke="#fff" stroke-width="0.3"/>
<rect x="99.35" y="400.56" width="8.91" height="8.38" fill="#ecf3f3" stroke="#fff" stroke-width="0.3"/>
<rect x="108.26" y="400.56" width="8.91" height="8.38" fill="#f7f9f9" stroke="#fff" stroke-width="0.3"/>
<rect x="54.80" y="408.94" width="8.91" height="8.38" fill="#f9fafa" stroke="#fff" stroke-width="0.3"/>
<rect x="63.71" y="408.94" width="8.91" height="8.38" fill="#f9fafa" stroke="#fff" stroke-width="0.3"/>
<rect x="72.62" y="408.94" width="8.91" height="8.38" fill="#eef4f4" stroke="#fff" stroke-width="0.3"/>
<rect x="81.53" y="408.94" width="8.91" height="8.38" fill="#f9fafa" stroke="#fff" stroke-width="0.3"/>
<rect x="90.44" y="408.94" width="8.91" height="8.38" fill="#f9fafa" stroke="#fff" stroke-width="0.3"/>
<rect x="99.35" y="408.94" width="8.91" height="8.38" fill="#e0edeb" stroke="#fff" stroke-width="0.3"/>
<rect x="54.80" y="417.32" width="8.91" height="8.38" fill="#f9fafa" stroke="#fff" stroke-width="0.3"/>
<rect x="63.71" y="417.32" width="8.91" height="8.38" fill="#f9fafa" stroke="#fff" stroke-width="0.3"/>
<rect x="72.62" y="417.32" width="8.91" height="8.38" fill="#f9fafa" stroke="#fff" stroke-width="0.3"/>
<rect x="81.53" y="417.32" width="8.91" height="8.38" fill="#e4efee" stroke="#fff" stroke-width="0.3"/>
<rect x="90.44" y="417.32" width="8.91" height="8.38" fill="#f7f9f9" stroke="#fff" stroke-width="0.3"/>
<rect x="54.80" y="425.70" width="8.91" height="8.38" fill="#c9e0db" stroke="#fff" stroke-width="0.3"/>
<rect x="63.71" y="425.70" width="8.91" height="8.38" fill="#f9fafa" stroke="#fff" stroke-width="0.3"/>
<rect x="72.62" y="425.70" width="8.91" height="8.38" fill="#f9fafa" stroke="#fff" stroke-width="0.3"/>
<rect x="81.53" y="425.70" width="8.91" height="8.38" fill="#f7f4e8" stroke="#fff" stroke-width="0.3"/>
<rect x="54.80" y="434.08" width="8.91" height="8.38" fill="#f9fafa" stroke="#fff" stroke-width="0.3"/>
<rect x="63.71" y="434.08" width="8.91" height="8.38" fill="#a5cdc4" stroke="#fff" stroke-width="0.3"/>
<rect x="72.62" y="434.08" width="8.91" height="8.38" fill="#f8f5ec" stroke="#fff" stroke-width="0.3"/>
<rect x="54.80" y="442.46" width="8.91" height="8.38" fill="#eaf2f2" stroke="#fff" stroke-width="0.3"/>
<rect x="63.71" y="442.46" width="8.91" height="8.38" fill="#f7f9f9" stroke="#fff" stroke-width="0.3"/>
<rect x="54.80" y="450.84" width="8.91" height="8.38" fill="#f7f9f9" stroke="#fff" stroke-width="0.3"/>
<circle cx="59.25" cy="429.89" r="1.9" fill="#fff" fill-opacity="0.2"/>
<circle cx="59.25" cy="429.89" r="1.1" fill="#111"/>
<circle cx="68.16" cy="438.27" r="1.9" fill="#fff" fill-opacity="0.2"/>
<circle cx="68.16" cy="438.27" r="1.1" fill="#111"/>
<text transform="translate(51.00,390.10) scale(1,0.96)" text-anchor="end" font-size="8.15">WT1 [3]</text>
<text transform="translate(51.00,398.51) scale(1,0.96)" text-anchor="end" font-size="8.15">UBTF [3]</text>
<text transform="translate(51.00,406.92) scale(1,0.96)" text-anchor="end" font-size="8.15">NRAS [7]</text>
<text transform="translate(51.00,415.33) scale(1,0.96)" text-anchor="end" font-size="8.15">MYC [2]</text>
<text transform="translate(51.00,423.74) scale(1,0.96)" text-anchor="end" font-size="8.15">KRAS [3]</text>
<text transform="translate(51.00,432.15) scale(1,0.96)" text-anchor="end" font-size="8.15">KIT [5]</text>
<text transform="translate(51.00,440.56) scale(1,0.96)" text-anchor="end" font-size="8.15">GATA1/2 [3]</text>
<text transform="translate(51.00,448.97) scale(1,0.96)" text-anchor="end" font-size="8.15">FLT3 [5]</text>
<text transform="translate(51.00,457.38) scale(1,0.96)" text-anchor="end" font-size="8.15">CEBPA [2]</text>
<text transform="translate(61.65,379.60) rotate(-89.98) scale(1,0.96)" font-size="8.15">ASXL1/2 [2]</text>
<text transform="translate(70.76,379.60) rotate(-89.98) scale(1,0.96)" font-size="8.15">CEBPA [2]</text>
<text transform="translate(79.86,379.60) rotate(-89.98) scale(1,0.96)" font-size="8.15">FLT3 [5]</text>
<text transform="translate(88.97,379.60) rotate(-89.98) scale(1,0.96)" font-size="8.15">GATA1/2 [3]</text>
<text transform="translate(98.07,379.60) rotate(-89.98) scale(1,0.96)" font-size="8.15">KIT [5]</text>
<text transform="translate(107.18,379.60) rotate(-89.98) scale(1,0.96)" font-size="8.15">KRAS [3]</text>
<text transform="translate(116.29,379.60) rotate(-89.98) scale(1,0.96)" font-size="8.15">MYC [2]</text>
<text transform="translate(125.39,379.60) rotate(-89.98) scale(1,0.96)" font-size="8.15">NRAS [7]</text>
<text transform="translate(134.50,379.60) rotate(-89.98) scale(1,0.96)" font-size="8.15">UBTF [3]</text>
<text x="95.60" y="330.20" text-anchor="middle" class="t">Pediatric Diagnosis</text>
<text x="7.20" y="330.30" class="l">C</text>
<rect x="288.10" y="410.10" width="9.56" height="8.99" fill="#f8f6ee" stroke="#fff" stroke-width="0.3"/>
<rect x="297.66" y="410.10" width="9.56" height="8.99" fill="#f8f6ee" stroke="#fff" stroke-width="0.3"/>
<rect x="307.22" y="410.10" width="9.56" height="8.99" fill="#f9fafa" stroke="#fff" stroke-width="0.3"/>
<rect x="316.78" y="410.10" width="9.56" height="8.99" fill="#b2d3cc" stroke="#fff" stroke-width="0.3"/>
<rect x="326.34" y="410.10" width="9.56" height="8.99" fill="#eef4f4" stroke="#fff" stroke-width="0.3"/>
<rect x="335.90" y="410.10" width="9.56" height="8.99" fill="#f9fafa" stroke="#fff" stroke-width="0.3"/>
<rect x="345.46" y="410.10" width="9.56" height="8.99" fill="#f7f4e8" stroke="#fff" stroke-width="0.3"/>
<rect x="355.02" y="410.10" width="9.56" height="8.99" fill="#f9fafa" stroke="#fff" stroke-width="0.3"/>
<rect x="364.58" y="410.10" width="9.56" height="8.99" fill="#eaf2f2" stroke="#fff" stroke-width="0.3"/>
<rect x="374.14" y="410.10" width="9.56" height="8.99" fill="#f8f6f0" stroke="#fff" stroke-width="0.3"/>
<rect x="383.70" y="410.10" width="9.56" height="8.99" fill="#f9fafa" stroke="#fff" stroke-width="0.3"/>
<rect x="393.26" y="410.10" width="9.56" height="8.99" fill="#f9fafa" stroke="#fff" stroke-width="0.3"/>
<rect x="402.82" y="410.10" width="9.56" height="8.99" fill="#f8f6ee" stroke="#fff" stroke-width="0.3"/>
<rect x="412.38" y="410.10" width="9.56" height="8.99" fill="#dceae8" stroke="#fff" stroke-width="0.3"/>
<rect x="288.10" y="419.09" width="9.56" height="8.99" fill="#f9fafa" stroke="#fff" stroke-width="0.3"/>
<rect x="297.66" y="419.09" width="9.56" height="8.99" fill="#f9fafa" stroke="#fff" stroke-width="0.3"/>
<rect x="307.22" y="419.09" width="9.56" height="8.99" fill="#f9fafa" stroke="#fff" stroke-width="0.3"/>
<rect x="316.78" y="419.09" width="9.56" height="8.99" fill="#ddebe9" stroke="#fff" stroke-width="0.3"/>
<rect x="326.34" y="419.09" width="9.56" height="8.99" fill="#ddebe9" stroke="#fff" stroke-width="0.3"/>
<rect x="335.90" y="419.09" width="9.56" height="8.99" fill="#f9fafa" stroke="#fff" stroke-width="0.3"/>
<rect x="345.46" y="419.09" width="9.56" height="8.99" fill="#f9fafa" stroke="#fff" stroke-width="0.3"/>
<rect x="355.02" y="419.09" width="9.56" height="8.99" fill="#f9fafa" stroke="#fff" stroke-width="0.3"/>
<rect x="364.58" y="419.09" width="9.56" height="8.99" fill="#f9fafa" stroke="#fff" stroke-width="0.3"/>
<rect x="374.14" y="419.09" width="9.56" height="8.99" fill="#f9fafa" stroke="#fff" stroke-width="0.3"/>
<rect x="383.70" y="419.09" width="9.56" height="8.99" fill="#f9fafa" stroke="#fff" stroke-width="0.3"/>
<rect x="393.26" y="419.09" width="9.56" height="8.99" fill="#f9fafa" stroke="#fff" stroke-width="0.3"/>
<rect x="402.82" y="419.09" width="9.56" height="8.99" fill="#f9fafa" stroke="#fff" stroke-width="0.3"/>
<rect x="288.10" y="428.08" width="9.56" height="8.99" fill="#f9fafa" stroke="#fff" stroke-width="0.3"/>
<rect x="297.66" y="428.08" width="9.56" height="8.99" fill="#f9fafa" stroke="#fff" stroke-width="0.3"/>
<rect x="307.22" y="428.08" width="9.56" height="8.99" fill="#f9fafa" stroke="#fff" stroke-width="0.3"/>
<rect x="316.78" y="428.08" width="9.56" height="8.99" fill="#f8f6f0" stroke="#fff" stroke-width="0.3"/>
<rect x="326.34" y="428.08" width="9.56" height="8.99" fill="#f9fafa" stroke="#fff" stroke-width="0.3"/>
<rect x="335.90" y="428.08" width="9.56" height="8.99" fill="#f9fafa" stroke="#fff" stroke-width="0.3"/>
<rect x="345.46" y="428.08" width="9.56" height="8.99" fill="#f9fafa" stroke="#fff" stroke-width="0.3"/>
<rect x="355.02" y="428.08" width="9.56" height="8.99" fill="#f9fafa" stroke="#fff" stroke-width="0.3"/>
<rect x="364.58" y="428.08" width="9.56" height="8.99" fill="#f9fafa" stroke="#fff" stroke-width="0.3"/>
<rect x="374.14" y="428.08" width="9.56" height="8.99" fill="#f9fafa" stroke="#fff" stroke-width="0.3"/>
<rect x="383.70" y="428.08" width="9.56" height="8.99" fill="#f9fafa" stroke="#fff" stroke-width="0.3"/>
<rect x="393.26" y="428.08" width="9.56" height="8.99" fill="#dceae8" stroke="#fff" stroke-width="0.3"/>
<rect x="288.10" y="437.07" width="9.56" height="8.99" fill="#f9fafa" stroke="#fff" stroke-width="0.3"/>
<rect x="297.66" y="437.07" width="9.56" height="8.99" fill="#f9fafa" stroke="#fff" stroke-width="0.3"/>
<rect x="307.22" y="437.07" width="9.56" height="8.99" fill="#f9fafa" stroke="#fff" stroke-width="0.3"/>
<rect x="316.78" y="437.07" width="9.56" height="8.99" fill="#ecf3f3" stroke="#fff" stroke-width="0.3"/>
<rect x="326.34" y="437.07" width="9.56" height="8.99" fill="#ecf3f3" stroke="#fff" stroke-width="0.3"/>
<rect x="335.90" y="437.07" width="9.56" height="8.99" fill="#f9fafa" stroke="#fff" stroke-width="0.3"/>
<rect x="345.46" y="437.07" width="9.56" height="8.99" fill="#f9fafa" stroke="#fff" stroke-width="0.3"/>
<rect x="355.02" y="437.07" width="9.56" height="8.99" fill="#f9fafa" stroke="#fff" stroke-width="0.3"/>
<rect x="364.58" y="437.07" width="9.56" height="8.99" fill="#f9fafa" stroke="#fff" stroke-width="0.3"/>
<rect x="374.14" y="437.07" width="9.56" height="8.99" fill="#f9fafa" stroke="#fff" stroke-width="0.3"/>
<rect x="383.70" y="437.07" width="9.56" height="8.99" fill="#dceae8" stroke="#fff" stroke-width="0.3"/>
<rect x="288.10" y="446.06" width="9.56" height="8.99" fill="#e0edeb" stroke="#fff" stroke-width="0.3"/>
<rect x="297.66" y="446.06" width="9.56" height="8.99" fill="#f9fafa" stroke="#fff" stroke-width="0.3"/>
<rect x="307.22" y="446.06" width="9.56" height="8.99" fill="#f9fafa" stroke="#fff" stroke-width="0.3"/>
<rect x="316.78" y="446.06" width="9.56" height="8.99" fill="#ecf3f3" stroke="#fff" stroke-width="0.3"/>
<rect x="326.34" y="446.06" width="9.56" height="8.99" fill="#f9fafa" stroke="#fff" stroke-width="0.3"/>
<rect x="335.90" y="446.06" width="9.56" height="8.99" fill="#f9fafa" stroke="#fff" stroke-width="0.3"/>
<rect x="345.46" y="446.06" width="9.56" height="8.99" fill="#eaf2f2" stroke="#fff" stroke-width="0.3"/>
<rect x="355.02" y="446.06" width="9.56" height="8.99" fill="#f9fafa" stroke="#fff" stroke-width="0.3"/>
<rect x="364.58" y="446.06" width="9.56" height="8.99" fill="#f9fafa" stroke="#fff" stroke-width="0.3"/>
<rect x="374.14" y="446.06" width="9.56" height="8.99" fill="#f9fafa" stroke="#fff" stroke-width="0.3"/>
<rect x="288.10" y="455.05" width="9.56" height="8.99" fill="#eaf2f2" stroke="#fff" stroke-width="0.3"/>
<rect x="297.66" y="455.05" width="9.56" height="8.99" fill="#f9fafa" stroke="#fff" stroke-width="0.3"/>
<rect x="307.22" y="455.05" width="9.56" height="8.99" fill="#e3eeed" stroke="#fff" stroke-width="0.3"/>
<rect x="316.78" y="455.05" width="9.56" height="8.99" fill="#f9fafa" stroke="#fff" stroke-width="0.3"/>
<rect x="326.34" y="455.05" width="9.56" height="8.99" fill="#f8f6f0" stroke="#fff" stroke-width="0.3"/>
<rect x="335.90" y="455.05" width="9.56" height="8.99" fill="#acd0c8" stroke="#fff" stroke-width="0.3"/>
<rect x="345.46" y="455.05" width="9.56" height="8.99" fill="#f9fafa" stroke="#fff" stroke-width="0.3"/>
<rect x="355.02" y="455.05" width="9.56" height="8.99" fill="#e1edec" stroke="#fff" stroke-width="0.3"/>
<rect x="364.58" y="455.05" width="9.56" height="8.99" fill="#e1edec" stroke="#fff" stroke-width="0.3"/>
<rect x="288.10" y="464.04" width="9.56" height="8.99" fill="#f9fafa" stroke="#fff" stroke-width="0.3"/>
<rect x="297.66" y="464.04" width="9.56" height="8.99" fill="#f9fafa" stroke="#fff" stroke-width="0.3"/>
<rect x="307.22" y="464.04" width="9.56" height="8.99" fill="#f9fafa" stroke="#fff" stroke-width="0.3"/>
<rect x="316.78" y="464.04" width="9.56" height="8.99" fill="#c9e0db" stroke="#fff" stroke-width="0.3"/>
<rect x="326.34" y="464.04" width="9.56" height="8.99" fill="#f9fafa" stroke="#fff" stroke-width="0.3"/>
<rect x="335.90" y="464.04" width="9.56" height="8.99" fill="#f9fafa" stroke="#fff" stroke-width="0.3"/>
<rect x="345.46" y="464.04" width="9.56" height="8.99" fill="#f9fafa" stroke="#fff" stroke-width="0.3"/>
<rect x="355.02" y="464.04" width="9.56" height="8.99" fill="#f7f9f9" stroke="#fff" stroke-width="0.3"/>
<rect x="288.10" y="473.03" width="9.56" height="8.99" fill="#f9fafa" stroke="#fff" stroke-width="0.3"/>
<rect x="297.66" y="473.03" width="9.56" height="8.99" fill="#f9fafa" stroke="#fff" stroke-width="0.3"/>
<rect x="307.22" y="473.03" width="9.56" height="8.99" fill="#f9fafa" stroke="#fff" stroke-width="0.3"/>
<rect x="316.78" y="473.03" width="9.56" height="8.99" fill="#f9fafa" stroke="#fff" stroke-width="0.3"/>
<rect x="326.34" y="473.03" width="9.56" height="8.99" fill="#eaf2f2" stroke="#fff" stroke-width="0.3"/>
<rect x="335.90" y="473.03" width="9.56" height="8.99" fill="#f9fafa" stroke="#fff" stroke-width="0.3"/>
<rect x="345.46" y="473.03" width="9.56" height="8.99" fill="#f9fafa" stroke="#fff" stroke-width="0.3"/>
<rect x="288.10" y="482.02" width="9.56" height="8.99" fill="#83b6ac" stroke="#fff" stroke-width="0.3"/>
<rect x="297.66" y="482.02" width="9.56" height="8.99" fill="#f9fafa" stroke="#fff" stroke-width="0.3"/>
<rect x="307.22" y="482.02" width="9.56" height="8.99" fill="#e4efee" stroke="#fff" stroke-width="0.3"/>
<rect x="316.78" y="482.02" width="9.56" height="8.99" fill="#f7f4ea" stroke="#fff" stroke-width="0.3"/>
<rect x="326.34" y="482.02" width="9.56" height="8.99" fill="#f7f4ea" stroke="#fff" stroke-width="0.3"/>
<rect x="335.90" y="482.02" width="9.56" height="8.99" fill="#e6f0ef" stroke="#fff" stroke-width="0.3"/>
<rect x="288.10" y="491.01" width="9.56" height="8.99" fill="#e4efee" stroke="#fff" stroke-width="0.3"/>
<rect x="297.66" y="491.01" width="9.56" height="8.99" fill="#f9fafa" stroke="#fff" stroke-width="0.3"/>
<rect x="307.22" y="491.01" width="9.56" height="8.99" fill="#dceae8" stroke="#fff" stroke-width="0.3"/>
<rect x="316.78" y="491.01" width="9.56" height="8.99" fill="#f9fafa" stroke="#fff" stroke-width="0.3"/>
<rect x="326.34" y="491.01" width="9.56" height="8.99" fill="#f9fafa" stroke="#fff" stroke-width="0.3"/>
<rect x="288.10" y="500.00" width="9.56" height="8.99" fill="#f8f6f0" stroke="#fff" stroke-width="0.3"/>
<rect x="297.66" y="500.00" width="9.56" height="8.99" fill="#dceae8" stroke="#fff" stroke-width="0.3"/>
<rect x="307.22" y="500.00" width="9.56" height="8.99" fill="#f9fafa" stroke="#fff" stroke-width="0.3"/>
<rect x="316.78" y="500.00" width="9.56" height="8.99" fill="#f3f7f6" stroke="#fff" stroke-width="0.3"/>
<rect x="288.10" y="508.99" width="9.56" height="8.99" fill="#f8f6f0" stroke="#fff" stroke-width="0.3"/>
<rect x="297.66" y="508.99" width="9.56" height="8.99" fill="#f8f6f0" stroke="#fff" stroke-width="0.3"/>
<rect x="307.22" y="508.99" width="9.56" height="8.99" fill="#f9fafa" stroke="#fff" stroke-width="0.3"/>
<rect x="288.10" y="517.98" width="9.56" height="8.99" fill="#e0edeb" stroke="#fff" stroke-width="0.3"/>
<rect x="297.66" y="517.98" width="9.56" height="8.99" fill="#f9fafa" stroke="#fff" stroke-width="0.3"/>
<rect x="288.10" y="526.97" width="9.56" height="8.99" fill="#f7f9f9" stroke="#fff" stroke-width="0.3"/>
<circle cx="321.56" cy="414.60" r="1.9" fill="#fff" fill-opacity="0.2"/>
<circle cx="321.56" cy="414.60" r="1.1" fill="#111"/>
<circle cx="340.68" cy="459.55" r="1.9" fill="#fff" fill-opacity="0.2"/>
<circle cx="340.68" cy="459.55" r="1.1" fill="#111"/>
<circle cx="321.56" cy="468.54" r="1.9" fill="#fff" fill-opacity="0.2"/>
<circle cx="321.56" cy="468.54" r="1.1" fill="#111"/>
<circle cx="292.88" cy="486.52" r="1.9" fill="#fff" fill-opacity="0.2"/>
<circle cx="292.88" cy="486.52" r="1.1" fill="#111"/>
<text transform="translate(284.50,416.65) scale(1,0.96)" text-anchor="end" font-size="8.3">WT1 [6]</text>
<text transform="translate(284.50,425.63) scale(1,0.96)" text-anchor="end" font-size="8.3">UBTF [3]</text>
<text transform="translate(284.50,434.61) scale(1,0.96)" text-anchor="end" font-size="8.3">TP53 [3]</text>
<text transform="translate(284.50,443.59) scale(1,0.96)" text-anchor="end" font-size="8.3">RUNX1 [2]</text>
<text transform="translate(284.50,452.57) scale(1,0.96)" text-anchor="end" font-size="8.3">PHF6 [2]</text>
<text transform="translate(284.50,461.55) scale(1,0.96)" text-anchor="end" font-size="8.3">NRAS [4]</text>
<text transform="translate(284.50,470.53) scale(1,0.96)" text-anchor="end" font-size="8.3">MYC [2]</text>
<text transform="translate(284.50,479.51) scale(1,0.96)" text-anchor="end" font-size="8.3">KRAS [2]</text>
<text transform="translate(284.50,488.49) scale(1,0.96)" text-anchor="end" font-size="8.3">KIT [5]</text>
<text transform="translate(284.50,497.47) scale(1,0.96)" text-anchor="end" font-size="8.3">IKZF1 [2]</text>
<text transform="translate(284.50,506.45) scale(1,0.96)" text-anchor="end" font-size="8.3">GATA1/2 [6]</text>
<text transform="translate(284.50,515.43) scale(1,0.96)" text-anchor="end" font-size="8.3">FLT3 [6]</text>
<text transform="translate(284.50,524.41) scale(1,0.96)" text-anchor="end" font-size="8.3">CSF1R/CSF3R [2]</text>
<text transform="translate(284.50,533.39) scale(1,0.96)" text-anchor="end" font-size="8.3">CEBPA [3]</text>
<text transform="translate(295.60,406.10) rotate(-89.98) scale(1,0.96)" font-size="8.3">ASXL1/2 [3]</text>
<text transform="translate(305.02,406.10) rotate(-89.98) scale(1,0.96)" font-size="8.3">CEBPA [3]</text>
<text transform="translate(314.44,406.10) rotate(-89.98) scale(1,0.96)" font-size="8.3">CSF1R/CSF3R [2]</text>
<text transform="translate(323.86,406.10) rotate(-89.98) scale(1,0.96)" font-size="8.3">FLT3 [6]</text>
<text transform="translate(333.28,406.10) rotate(-89.98) scale(1,0.96)" font-size="8.3">GATA1/2 [6]</text>
<text transform="translate(342.70,406.10) rotate(-89.98) scale(1,0.96)" font-size="8.3">IKZF1 [2]</text>
<text transform="translate(352.12,406.10) rotate(-89.98) scale(1,0.96)" font-size="8.3">KIT [5]</text>
<text transform="translate(361.54,406.10) rotate(-89.98) scale(1,0.96)" font-size="8.3">KRAS [2]</text>
<text transform="translate(370.96,406.10) rotate(-89.98) scale(1,0.96)" font-size="8.3">MYC [2]</text>
<text transform="translate(380.38,406.10) rotate(-89.98) scale(1,0.96)" font-size="8.3">NRAS [4]</text>
<text transform="translate(389.80,406.10) rotate(-89.98) scale(1,0.96)" font-size="8.3">PHF6 [2]</text>
<text transform="translate(399.22,406.10) rotate(-89.98) scale(1,0.96)" font-size="8.3">RUNX1 [2]</text>
<text transform="translate(408.64,406.10) rotate(-89.98) scale(1,0.96)" font-size="8.3">TP53 [3]</text>
<text transform="translate(418.06,406.10) rotate(-89.98) scale(1,0.96)" font-size="8.3">UBTF [3]</text>
<text x="358.50" y="330.20" text-anchor="middle" class="t">Pediatric Relapse</text>
<text x="216.80" y="330.00" class="l">D</text>
<defs><linearGradient id="g" x1="0" y1="0" x2="0" y2="1">
<stop offset="0.0000" stop-color="#336459"/>
<stop offset="0.0625" stop-color="#41786e"/>
<stop offset="0.1250" stop-color="#569187"/>
<stop offset="0.1875" stop-color="#73aaa0"/>
<stop offset="0.2500" stop-color="#9bc8be"/>
<stop offset="0.3125" stop-color="#bcd8d2"/>
<stop offset="0.3750" stop-color="#d6e7e4"/>
<stop offset="0.4375" stop-color="#e4efee"/>
<stop offset="0.5000" stop-color="#f9fafa"/>
<stop offset="0.5625" stop-color="#f7f3e6"/>
<stop offset="0.6250" stop-color="#f1eac8"/>
<stop offset="0.6875" stop-color="#e9daa5"/>
<stop offset="0.7500" stop-color="#dac47d"/>
<stop offset="0.8125" stop-color="#c7a655"/>
<stop offset="0.8750" stop-color="#b4872d"/>
<stop offset="0.9375" stop-color="#9e6e26"/>
<stop offset="1.0000" stop-color="#87551e"/>
</linearGradient></defs>
<rect x="466.5" y="411.5" width="5.5" height="112.29999999999995" fill="url(#g)"/>
<line x1="475.5" y1="411.5" x2="475.5" y2="522.6" stroke="#111" stroke-width="1.1"/>
<line x1="475.5" y1="411.50" x2="478.1" y2="411.50" stroke="#111" stroke-width="0.9"/>
<text x="481.5" y="414.00" class="cb">4</text>
<line x1="475.5" y1="425.39" x2="478.1" y2="425.39" stroke="#111" stroke-width="0.9"/>
<text x="481.5" y="427.89" class="cb">3</text>
<line x1="475.5" y1="439.27" x2="478.1" y2="439.27" stroke="#111" stroke-width="0.9"/>
<text x="481.5" y="441.77" class="cb">2</text>
<line x1="475.5" y1="453.16" x2="478.1" y2="453.16" stroke="#111" stroke-width="0.9"/>
<text x="481.5" y="455.66" class="cb">1</text>
<line x1="475.5" y1="467.05" x2="478.1" y2="467.05" stroke="#111" stroke-width="0.9"/>
<text x="481.5" y="469.55" class="cb">0</text>
<line x1="475.5" y1="480.94" x2="478.1" y2="480.94" stroke="#111" stroke-width="0.9"/>
<text x="481.5" y="483.44" class="cb">1</text>
<line x1="475.5" y1="494.83" x2="478.1" y2="494.83" stroke="#111" stroke-width="0.9"/>
<text x="481.5" y="497.33" class="cb">2</text>
<line x1="475.5" y1="508.71" x2="478.1" y2="508.71" stroke="#111" stroke-width="0.9"/>
<text x="481.5" y="511.21" class="cb">3</text>
<line x1="475.5" y1="522.60" x2="478.1" y2="522.60" stroke="#111" stroke-width="0.9"/>
<text x="481.5" y="525.10" class="cb">4</text>
<text transform="translate(496.8,467.65) rotate(-90) scale(0.98,1.08)" text-anchor="middle" class="cb">-log10(p-value)</text>
<text x="467.0" y="403.5" text-anchor="middle" class="lg">Co-occurrence</text>
<text x="466.0" y="535.8" text-anchor="middle" class="lg">Mutual exclusion</text>
</svg>
<div id="frame"></div>
</div></body></html>
